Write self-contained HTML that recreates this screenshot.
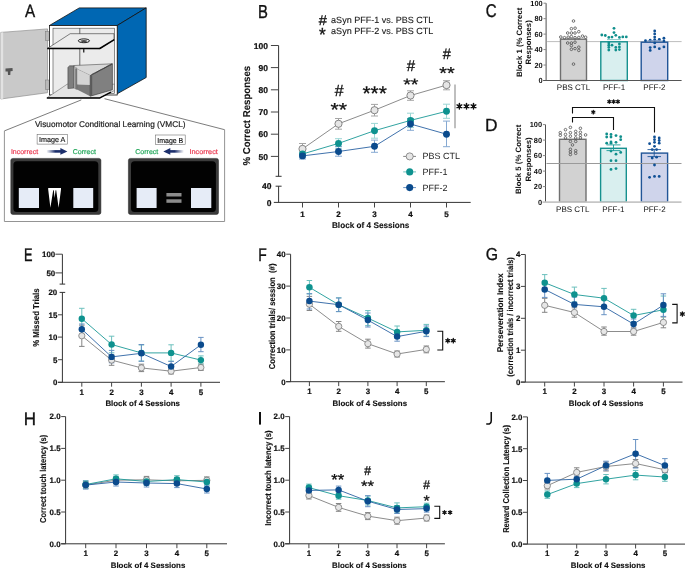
<!DOCTYPE html>
<html><head><meta charset="utf-8"><style>
html,body{margin:0;padding:0;background:#fff;width:685px;height:568px;overflow:hidden}
svg{display:block;will-change:transform}
text{font-family:"Liberation Sans", sans-serif}
svg{text-rendering:geometricPrecision}
</style></head><body>
<svg width="685" height="568" viewBox="0 0 685 568">
<rect width="685" height="568" fill="#fff"/>
<text transform="matrix(0.15232 0 0 0.17878 25.070 16.800)" font-size="100" font-weight="normal" fill="#111" stroke="#111" stroke-width="1.97">A</text>
<polygon points="0.8,32.4 47.5,28.9 47.5,92.7 0.8,99" fill="#c9c9c9" stroke="#8f8f8f" stroke-width="0.7" />
<polygon points="0.8,32.4 3.2,32.2 3.2,98.7 0.8,99" fill="#e2e2e2" stroke="none" stroke-width="0" />
<rect x="45.4" y="31.6" width="4.6" height="8.8" rx="0" fill="#b8b8b8" stroke="#777" stroke-width="0.5" />
<rect x="45.4" y="80" width="4.6" height="9.5" rx="0" fill="#b8b8b8" stroke="#777" stroke-width="0.5" />
<polygon points="5.5,68.6 12.5,68.1 12.7,71 10.5,71.2 10.3,74.9 8,74.9 7.8,71.4 5.5,71.6" fill="#555" stroke="none" stroke-width="0" />
<polygon points="49.4,25.5 79.3,7.9 146.2,7.9 117.2,25.5" fill="#0067b3" stroke="#111" stroke-width="0.8" />
<polygon points="117.2,25.5 146.2,7.9 146.2,77.5 117.2,93.8" fill="#0067b3" stroke="#111" stroke-width="0.8" />
<rect x="49.4" y="25.5" width="67.8" height="69.5" rx="0" fill="#ffffff" stroke="#111" stroke-width="0.8" />
<rect x="53" y="28.2" width="61.5" height="65.3" rx="0" fill="#ebebeb" stroke="#444" stroke-width="0.6" />
<line x1="79.8" y1="28.2" x2="79.8" y2="88" stroke="#333" stroke-width="0.7" />
<polygon points="47.7,48.3 99.8,48.6 114,39.8 114,33.7 70.2,33.7" fill="#ececec" stroke="#333" stroke-width="0.6" />
<line x1="47.2" y1="48.4" x2="100" y2="48.4" stroke="#000" stroke-width="1.5" />
<line x1="99.8" y1="48.5" x2="114.3" y2="39.6" stroke="#000" stroke-width="1.5" />
<ellipse cx="83.9" cy="40.8" rx="5.6" ry="1.9" fill="#fafafa" stroke="#111" stroke-width="0.95"/>
<ellipse cx="83.9" cy="41.1" rx="3.4" ry="0.75" fill="#111"/>
<rect x="83.1" y="49" width="1.3" height="3.5" rx="0" fill="#222" stroke="none" stroke-width="0" />
<polygon points="47.3,97.5 67.2,84.2 114.5,84.2 114.5,90.5 99.9,97.8" fill="#e4e4e4" stroke="#555" stroke-width="0.5" />
<line x1="46.8" y1="98" x2="100.2" y2="98" stroke="#000" stroke-width="1.6" />
<line x1="99.9" y1="97.9" x2="111" y2="92.2" stroke="#000" stroke-width="1.4" />
<polygon points="73.8,65.5 112.2,63.8 90.2,75.6 73.8,67.6" fill="#d8d8d8" stroke="#333" stroke-width="0.5" />
<polygon points="75.5,68.3 90.2,75.6 90.2,88 75.5,84" fill="#d4d4d4" stroke="none" stroke-width="0" />
<polygon points="75.5,84.5 90.2,85 90.2,96.2 77,89.5" fill="#7a7a7a" stroke="none" stroke-width="0" />
<polygon points="73.8,66.5 77,68 77,89.8 73.8,88.1" fill="#c2c2c2" stroke="#555" stroke-width="0.3" />
<rect x="75.3" y="68.5" width="1.6" height="20.5" rx="0" fill="#6f6f6f" stroke="none" stroke-width="0" />
<polygon points="67.9,67.4 69.6,65.8 73.8,65.8 73.8,88.1 67.9,88.6" fill="#7e7e7e" stroke="#333" stroke-width="0.5" />
<polygon points="90.2,75.6 112.4,63.8 112.4,89.8 90.2,96.2" fill="#808080" stroke="#333" stroke-width="0.6" />
<polygon points="90.2,75.6 92.2,74.5 92.2,95.6 90.2,96.2" fill="#5a5a5a" stroke="none" stroke-width="0" />
<line x1="92.5" y1="74.3" x2="112.2" y2="63.9" stroke="#3a3a3a" stroke-width="1.2" stroke-dasharray="0.7 0.6"/>
<line x1="81.3" y1="99.9" x2="4.4" y2="130.9" stroke="#444" stroke-width="0.7" />
<line x1="104.5" y1="98.7" x2="224.6" y2="129.7" stroke="#444" stroke-width="0.7" />
<polyline points="4.4,130.9 4.4,221.5 224.6,221.5 224.6,129.7" fill="none" stroke="#888" stroke-width="0.9" />
<text x="35" y="127.4" font-size="8.3" font-weight="normal" text-anchor="start" fill="#222" stroke="#222" stroke-width="0.2" textLength="150.5" lengthAdjust="spacingAndGlyphs">Visuomotor Conditional Learning (VMCL)</text>
<rect x="37.1" y="134.6" width="30.3" height="9.5" rx="0" fill="#fff" stroke="#666" stroke-width="0.55" />
<text x="52.25" y="142.4" font-size="7.3" font-weight="normal" text-anchor="middle" fill="#111" stroke="#111" stroke-width="0.15" textLength="26.3" lengthAdjust="spacingAndGlyphs">Image A</text>
<rect x="155.3" y="135" width="29.9" height="9.4" rx="0" fill="#fff" stroke="#666" stroke-width="0.55" />
<text x="170.25" y="142.6" font-size="7.3" font-weight="normal" text-anchor="middle" fill="#111" stroke="#111" stroke-width="0.15" textLength="26" lengthAdjust="spacingAndGlyphs">Image B</text>
<text x="10.9" y="153.9" font-size="7" font-weight="normal" text-anchor="start" fill="#ea3b52" stroke="#ea3b52" stroke-width="0.2" textLength="27.2" lengthAdjust="spacingAndGlyphs">Incorrect</text>
<text x="72.7" y="153.9" font-size="7" font-weight="normal" text-anchor="start" fill="#25a85c" stroke="#25a85c" stroke-width="0.2" textLength="23.2" lengthAdjust="spacingAndGlyphs">Correct</text>
<text x="135.2" y="153.9" font-size="7" font-weight="normal" text-anchor="start" fill="#25a85c" stroke="#25a85c" stroke-width="0.2" textLength="23.1" lengthAdjust="spacingAndGlyphs">Correct</text>
<text x="189.4" y="153.9" font-size="7" font-weight="normal" text-anchor="start" fill="#ea3b52" stroke="#ea3b52" stroke-width="0.2" textLength="28.5" lengthAdjust="spacingAndGlyphs">Incorrect</text>
<defs><linearGradient id="gr" x1="0" x2="1"><stop offset="0" stop-color="#1c2f6c" stop-opacity="0"/><stop offset="0.6" stop-color="#1c2f6c"/></linearGradient><linearGradient id="gl" x1="1" x2="0"><stop offset="0" stop-color="#1c2f6c" stop-opacity="0"/><stop offset="0.6" stop-color="#1c2f6c"/></linearGradient></defs>
<rect x="46.4" y="150.1" width="15" height="2.6" rx="0" fill="url(#gr)" stroke="none" stroke-width="0" />
<polygon points="60.4,148 67.4,151.4 60.4,154.8" fill="#1c2f6c" stroke="none" stroke-width="0" />
<rect x="168.3" y="150.1" width="15.6" height="2.6" rx="0" fill="url(#gl)" stroke="none" stroke-width="0" />
<polygon points="170.3,148 163.3,151.4 170.3,154.8" fill="#1c2f6c" stroke="none" stroke-width="0" />
<rect x="10.8" y="158.4" width="90.1" height="56" rx="2" fill="#3b3b3b" stroke="#222" stroke-width="0.5" />
<rect x="13.4" y="161.3" width="84.9" height="50.8" rx="3.5" fill="#020202" stroke="none" stroke-width="0" />
<rect x="128.4" y="158.4" width="90.1" height="56" rx="2" fill="#3b3b3b" stroke="#222" stroke-width="0.5" />
<rect x="131" y="161.3" width="84.9" height="50.8" rx="3.5" fill="#020202" stroke="none" stroke-width="0" />
<rect x="18.8" y="188" width="20.2" height="20" rx="0" fill="#e6ecf7" stroke="none" stroke-width="0" />
<rect x="73.3" y="188" width="19.9" height="20" rx="0" fill="#e6ecf7" stroke="none" stroke-width="0" />
<polygon points="48.2,187.9 61,187.9 61,189.5 58.6,207.7 56.2,190.2 55.6,190.2 54.6,198 53.8,190.2 53.2,190.2 50.4,207.7 48.2,189.5" fill="#fff" stroke="none" stroke-width="0" />
<rect x="136.6" y="188" width="20" height="20" rx="0" fill="#e6ecf7" stroke="none" stroke-width="0" />
<rect x="191" y="188" width="20.3" height="20" rx="0" fill="#e6ecf7" stroke="none" stroke-width="0" />
<rect x="166.4" y="193" width="15.1" height="3.5" rx="0" fill="#8c8c8c" stroke="none" stroke-width="0" />
<rect x="166.4" y="199.3" width="15.1" height="3.5" rx="0" fill="#8c8c8c" stroke="none" stroke-width="0" />
<text transform="matrix(0.14843 0 0 0.18750 258.082 17.600)" font-size="100" font-weight="normal" fill="#111" stroke="#111" stroke-width="2.02">B</text>
<text transform="matrix(0.14629 0 0 0.13887 318.736 24.800)" font-size="100" font-weight="normal" fill="#111" stroke="#111" stroke-width="2.05">#</text>
<text transform="matrix(0.17346 0 0 0.19084 318.920 41.130)" font-size="100" font-weight="normal" fill="#111" stroke="#111" stroke-width="1.73">*</text>
<text x="331.1" y="22.9" font-size="9" font-weight="normal" text-anchor="start" fill="#1a1a1a" stroke="#1a1a1a" stroke-width="0.12" textLength="102.3" lengthAdjust="spacingAndGlyphs">aSyn PFF-1 vs. PBS CTL</text>
<text x="331.1" y="34.3" font-size="9" font-weight="normal" text-anchor="start" fill="#1a1a1a" stroke="#1a1a1a" stroke-width="0.12" textLength="102.3" lengthAdjust="spacingAndGlyphs">aSyn PFF-2 vs. PBS CTL</text>
<line x1="278.6" y1="45.5" x2="278.6" y2="176.3" stroke="#333" stroke-width="1" />
<line x1="275.6" y1="176.3" x2="281.6" y2="176.3" stroke="#333" stroke-width="1" />
<line x1="278.6" y1="186.2" x2="278.6" y2="202.4" stroke="#333" stroke-width="1" />
<line x1="275.6" y1="186.2" x2="281.6" y2="186.2" stroke="#333" stroke-width="1" />
<line x1="270.9" y1="45.5" x2="278.6" y2="45.5" stroke="#444" stroke-width="1" />
<text x="268" y="48.6" font-size="8.5" font-weight="bold" text-anchor="end" fill="#111" stroke="#111" stroke-width="0.22">100</text>
<line x1="270.9" y1="67.6" x2="278.6" y2="67.6" stroke="#444" stroke-width="1" />
<text x="268" y="70.7" font-size="8.5" font-weight="bold" text-anchor="end" fill="#111" stroke="#111" stroke-width="0.22">90</text>
<line x1="270.9" y1="89.8" x2="278.6" y2="89.8" stroke="#444" stroke-width="1" />
<text x="268" y="92.9" font-size="8.5" font-weight="bold" text-anchor="end" fill="#111" stroke="#111" stroke-width="0.22">80</text>
<line x1="270.9" y1="112" x2="278.6" y2="112" stroke="#444" stroke-width="1" />
<text x="268" y="115.1" font-size="8.5" font-weight="bold" text-anchor="end" fill="#111" stroke="#111" stroke-width="0.22">70</text>
<line x1="270.9" y1="134.2" x2="278.6" y2="134.2" stroke="#444" stroke-width="1" />
<text x="268" y="137.3" font-size="8.5" font-weight="bold" text-anchor="end" fill="#111" stroke="#111" stroke-width="0.22">60</text>
<line x1="270.9" y1="156.4" x2="278.6" y2="156.4" stroke="#444" stroke-width="1" />
<text x="268" y="159.5" font-size="8.5" font-weight="bold" text-anchor="end" fill="#111" stroke="#111" stroke-width="0.22">50</text>
<text x="271.5" y="189.3" font-size="8.5" font-weight="bold" text-anchor="end" fill="#111" stroke="#111" stroke-width="0.22">40</text>
<text x="271.5" y="205.5" font-size="8.5" font-weight="bold" text-anchor="end" fill="#111" stroke="#111" stroke-width="0.22">0</text>
<line x1="273.8" y1="202.4" x2="470.7" y2="202.4" stroke="#333" stroke-width="1" />
<line x1="302.5" y1="202.4" x2="302.5" y2="207.5" stroke="#444" stroke-width="1" />
<text x="302.5" y="217.3" font-size="8" font-weight="bold" text-anchor="middle" fill="#111" stroke="#111" stroke-width="0.22">1</text>
<line x1="338.5" y1="202.4" x2="338.5" y2="207.5" stroke="#444" stroke-width="1" />
<text x="338.5" y="217.3" font-size="8" font-weight="bold" text-anchor="middle" fill="#111" stroke="#111" stroke-width="0.22">2</text>
<line x1="374.5" y1="202.4" x2="374.5" y2="207.5" stroke="#444" stroke-width="1" />
<text x="374.5" y="217.3" font-size="8" font-weight="bold" text-anchor="middle" fill="#111" stroke="#111" stroke-width="0.22">3</text>
<line x1="410.5" y1="202.4" x2="410.5" y2="207.5" stroke="#444" stroke-width="1" />
<text x="410.5" y="217.3" font-size="8" font-weight="bold" text-anchor="middle" fill="#111" stroke="#111" stroke-width="0.22">4</text>
<line x1="446.5" y1="202.4" x2="446.5" y2="207.5" stroke="#444" stroke-width="1" />
<text x="446.5" y="217.3" font-size="8" font-weight="bold" text-anchor="middle" fill="#111" stroke="#111" stroke-width="0.22">5</text>
<text x="370.7" y="227.55" font-size="8.2" font-weight="bold" text-anchor="middle" fill="#111" stroke="#111" stroke-width="0.12" textLength="77.5" lengthAdjust="spacingAndGlyphs">Block of 4 Sessions</text>
<text x="250.5" y="115.7" font-size="10" font-weight="bold" text-anchor="middle" fill="#111" transform="rotate(-90 250.5 115.7)" stroke="#111" stroke-width="0.12" textLength="99.8" lengthAdjust="spacingAndGlyphs">% Correct Responses</text>
<text transform="matrix(0.15909 0 0 0.16080 334.630 96.100)" font-size="100" font-weight="normal" fill="#111" stroke="#111" stroke-width="1.89">#</text>
<text transform="matrix(0.21297 0 0 0.18799 330.557 115.934)" font-size="100" font-weight="normal" fill="#111" stroke="#111" stroke-width="1.41">*</text>
<text transform="matrix(0.21297 0 0 0.18799 338.845 115.934)" font-size="100" font-weight="normal" fill="#111" stroke="#111" stroke-width="1.41">*</text>
<text transform="matrix(0.20867 0 0 0.19654 362.464 100.422)" font-size="100" font-weight="normal" fill="#111" stroke="#111" stroke-width="1.44">*</text>
<text transform="matrix(0.20867 0 0 0.19654 370.585 100.422)" font-size="100" font-weight="normal" fill="#111" stroke="#111" stroke-width="1.44">*</text>
<text transform="matrix(0.20867 0 0 0.19654 378.705 100.422)" font-size="100" font-weight="normal" fill="#111" stroke="#111" stroke-width="1.44">*</text>
<text transform="matrix(0.14994 0 0 0.15349 406.734 70.900)" font-size="100" font-weight="normal" fill="#111" stroke="#111" stroke-width="2">#</text>
<text transform="matrix(0.19690 0 0 0.16521 403.183 90.266)" font-size="100" font-weight="normal" fill="#111" stroke="#111" stroke-width="1.52">*</text>
<text transform="matrix(0.19690 0 0 0.16521 410.845 90.266)" font-size="100" font-weight="normal" fill="#111" stroke="#111" stroke-width="1.52">*</text>
<text transform="matrix(0.14446 0 0 0.15057 442.837 58.800)" font-size="100" font-weight="normal" fill="#111" stroke="#111" stroke-width="2.08">#</text>
<text transform="matrix(0.19824 0 0 0.17375 439.181 78.954)" font-size="100" font-weight="normal" fill="#111" stroke="#111" stroke-width="1.51">*</text>
<text transform="matrix(0.19824 0 0 0.17375 446.895 78.954)" font-size="100" font-weight="normal" fill="#111" stroke="#111" stroke-width="1.51">*</text>
<line x1="455" y1="84.5" x2="455" y2="128.3" stroke="#8a8a8a" stroke-width="1.1" />
<path d="M459.4 103.6V109M457.06 104.95L461.74 107.65M457.06 107.65L461.74 104.95" stroke="#111" stroke-width="1.5" stroke-linecap="round" fill="none"/>
<circle cx="459.4" cy="106.3" r="1.49" fill="#111"/>
<path d="M466.5 103.6V109M464.16 104.95L468.84 107.65M464.16 107.65L468.84 104.95" stroke="#111" stroke-width="1.5" stroke-linecap="round" fill="none"/>
<circle cx="466.5" cy="106.3" r="1.49" fill="#111"/>
<path d="M473.5 103.6V109M471.16 104.95L475.84 107.65M471.16 107.65L475.84 104.95" stroke="#111" stroke-width="1.5" stroke-linecap="round" fill="none"/>
<circle cx="473.5" cy="106.3" r="1.49" fill="#111"/>
<line x1="403.2" y1="156.4" x2="416" y2="156.4" stroke="#858585" stroke-width="1" />
<circle cx="409.7" cy="156.4" r="3.55" fill="#e6e6e6" stroke="#7a7a7a" stroke-width="0.8"/>
<line x1="403.2" y1="171.9" x2="416" y2="171.9" stroke="#6cc0bd" stroke-width="1" />
<circle cx="409.7" cy="171.9" r="3.55" fill="#0e928f" stroke="none" stroke-width="0"/>
<line x1="403.2" y1="187.6" x2="416" y2="187.6" stroke="#6892c3" stroke-width="1" />
<circle cx="409.7" cy="187.6" r="3.55" fill="#0b4b8d" stroke="none" stroke-width="0"/>
<text x="422.6" y="159.1" font-size="9" font-weight="normal" text-anchor="start" fill="#222" >PBS CTL</text>
<text x="422.6" y="174.9" font-size="9" font-weight="normal" text-anchor="start" fill="#222" >PFF-1</text>
<text x="422.6" y="190.7" font-size="9" font-weight="normal" text-anchor="start" fill="#222" >PFF-2</text>
<polyline points="302.5,148.9 338.5,123.8 374.5,110.2 410.5,95.5 446.5,85.1" fill="none" stroke="#6e6e6e" stroke-width="0.8" />
<polyline points="302.5,154 338.5,143.4 374.5,130.7 410.5,120.4 446.5,111.3" fill="none" stroke="#1a9996" stroke-width="0.9" />
<polyline points="302.5,155.9 338.5,151.5 374.5,146.3 410.5,124 446.5,134.2" fill="none" stroke="#2a62a3" stroke-width="0.9" />
<line x1="302.5" y1="143.5" x2="302.5" y2="154" stroke="#a5a5a5" stroke-width="1" />
<line x1="299" y1="143.5" x2="306" y2="143.5" stroke="#a5a5a5" stroke-width="1" />
<line x1="299" y1="154" x2="306" y2="154" stroke="#a5a5a5" stroke-width="1" />
<line x1="338.5" y1="118.5" x2="338.5" y2="129.2" stroke="#a5a5a5" stroke-width="1" />
<line x1="335" y1="118.5" x2="342" y2="118.5" stroke="#a5a5a5" stroke-width="1" />
<line x1="335" y1="129.2" x2="342" y2="129.2" stroke="#a5a5a5" stroke-width="1" />
<line x1="374.5" y1="104.4" x2="374.5" y2="116" stroke="#a5a5a5" stroke-width="1" />
<line x1="371" y1="104.4" x2="378" y2="104.4" stroke="#a5a5a5" stroke-width="1" />
<line x1="371" y1="116" x2="378" y2="116" stroke="#a5a5a5" stroke-width="1" />
<line x1="410.5" y1="90.8" x2="410.5" y2="100.3" stroke="#a5a5a5" stroke-width="1" />
<line x1="407" y1="90.8" x2="414" y2="90.8" stroke="#a5a5a5" stroke-width="1" />
<line x1="407" y1="100.3" x2="414" y2="100.3" stroke="#a5a5a5" stroke-width="1" />
<line x1="446.5" y1="80.7" x2="446.5" y2="89.8" stroke="#a5a5a5" stroke-width="1" />
<line x1="443" y1="80.7" x2="450" y2="80.7" stroke="#a5a5a5" stroke-width="1" />
<line x1="443" y1="89.8" x2="450" y2="89.8" stroke="#a5a5a5" stroke-width="1" />
<line x1="302.5" y1="151" x2="302.5" y2="157" stroke="#9bd6d4" stroke-width="1" />
<line x1="299" y1="151" x2="306" y2="151" stroke="#9bd6d4" stroke-width="1" />
<line x1="299" y1="157" x2="306" y2="157" stroke="#9bd6d4" stroke-width="1" />
<line x1="338.5" y1="138.7" x2="338.5" y2="148.2" stroke="#9bd6d4" stroke-width="1" />
<line x1="335" y1="138.7" x2="342" y2="138.7" stroke="#9bd6d4" stroke-width="1" />
<line x1="335" y1="148.2" x2="342" y2="148.2" stroke="#9bd6d4" stroke-width="1" />
<line x1="374.5" y1="123.4" x2="374.5" y2="138.2" stroke="#9bd6d4" stroke-width="1" />
<line x1="371" y1="123.4" x2="378" y2="123.4" stroke="#9bd6d4" stroke-width="1" />
<line x1="371" y1="138.2" x2="378" y2="138.2" stroke="#9bd6d4" stroke-width="1" />
<line x1="410.5" y1="113.2" x2="410.5" y2="127.6" stroke="#9bd6d4" stroke-width="1" />
<line x1="407" y1="113.2" x2="414" y2="113.2" stroke="#9bd6d4" stroke-width="1" />
<line x1="407" y1="127.6" x2="414" y2="127.6" stroke="#9bd6d4" stroke-width="1" />
<line x1="446.5" y1="104.2" x2="446.5" y2="118.3" stroke="#9bd6d4" stroke-width="1" />
<line x1="443" y1="104.2" x2="450" y2="104.2" stroke="#9bd6d4" stroke-width="1" />
<line x1="443" y1="118.3" x2="450" y2="118.3" stroke="#9bd6d4" stroke-width="1" />
<line x1="302.5" y1="153" x2="302.5" y2="159" stroke="#86a9d2" stroke-width="1" />
<line x1="299" y1="153" x2="306" y2="153" stroke="#86a9d2" stroke-width="1" />
<line x1="299" y1="159" x2="306" y2="159" stroke="#86a9d2" stroke-width="1" />
<line x1="338.5" y1="146.5" x2="338.5" y2="156.2" stroke="#86a9d2" stroke-width="1" />
<line x1="335" y1="146.5" x2="342" y2="146.5" stroke="#86a9d2" stroke-width="1" />
<line x1="335" y1="156.2" x2="342" y2="156.2" stroke="#86a9d2" stroke-width="1" />
<line x1="374.5" y1="140.1" x2="374.5" y2="152.3" stroke="#86a9d2" stroke-width="1" />
<line x1="371" y1="140.1" x2="378" y2="140.1" stroke="#86a9d2" stroke-width="1" />
<line x1="371" y1="152.3" x2="378" y2="152.3" stroke="#86a9d2" stroke-width="1" />
<line x1="410.5" y1="118.5" x2="410.5" y2="130.3" stroke="#86a9d2" stroke-width="1" />
<line x1="407" y1="118.5" x2="414" y2="118.5" stroke="#86a9d2" stroke-width="1" />
<line x1="407" y1="130.3" x2="414" y2="130.3" stroke="#86a9d2" stroke-width="1" />
<line x1="446.5" y1="121.1" x2="446.5" y2="146.7" stroke="#86a9d2" stroke-width="1" />
<line x1="443" y1="121.1" x2="450" y2="121.1" stroke="#86a9d2" stroke-width="1" />
<line x1="443" y1="146.7" x2="450" y2="146.7" stroke="#86a9d2" stroke-width="1" />
<circle cx="302.5" cy="148.9" r="3.6" fill="#e6e6e6" stroke="#7a7a7a" stroke-width="0.9"/>
<circle cx="338.5" cy="123.8" r="3.6" fill="#e6e6e6" stroke="#7a7a7a" stroke-width="0.9"/>
<circle cx="374.5" cy="110.2" r="3.6" fill="#e6e6e6" stroke="#7a7a7a" stroke-width="0.9"/>
<circle cx="410.5" cy="95.5" r="3.6" fill="#e6e6e6" stroke="#7a7a7a" stroke-width="0.9"/>
<circle cx="446.5" cy="85.1" r="3.6" fill="#e6e6e6" stroke="#7a7a7a" stroke-width="0.9"/>
<circle cx="302.5" cy="154" r="3.45" fill="#0e928f" stroke="none" stroke-width="0"/>
<circle cx="338.5" cy="143.4" r="3.45" fill="#0e928f" stroke="none" stroke-width="0"/>
<circle cx="374.5" cy="130.7" r="3.45" fill="#0e928f" stroke="none" stroke-width="0"/>
<circle cx="410.5" cy="120.4" r="3.45" fill="#0e928f" stroke="none" stroke-width="0"/>
<circle cx="446.5" cy="111.3" r="3.45" fill="#0e928f" stroke="none" stroke-width="0"/>
<circle cx="302.5" cy="155.9" r="3.45" fill="#0b4b8d" stroke="none" stroke-width="0"/>
<circle cx="338.5" cy="151.5" r="3.45" fill="#0b4b8d" stroke="none" stroke-width="0"/>
<circle cx="374.5" cy="146.3" r="3.45" fill="#0b4b8d" stroke="none" stroke-width="0"/>
<circle cx="410.5" cy="124" r="3.45" fill="#0b4b8d" stroke="none" stroke-width="0"/>
<circle cx="446.5" cy="134.2" r="3.45" fill="#0b4b8d" stroke="none" stroke-width="0"/>
<text transform="matrix(0.15001 0 0 0.18503 485.638 17.419)" font-size="100" font-weight="normal" fill="#111" stroke="#111" stroke-width="2">C</text>
<line x1="547.1" y1="41.6" x2="681.6" y2="41.6" stroke="#bdbdbd" stroke-width="1" />
<rect x="560.5" y="39.2" width="26" height="41.3" rx="0" fill="#d2d2d2" stroke="#707070" stroke-width="1.4" />
<rect x="600.8" y="41.8" width="26.5" height="38.7" rx="0" fill="#d9efef" stroke="#17918f" stroke-width="1.4" />
<rect x="641.2" y="42.2" width="26.5" height="38.3" rx="0" fill="#cfd4eb" stroke="#215597" stroke-width="1.4" />
<circle cx="573.5" cy="21" r="1.3" fill="none" stroke="#505050" stroke-width="0.8"/>
<circle cx="571.4" cy="28.7" r="1.3" fill="none" stroke="#505050" stroke-width="0.8"/>
<circle cx="575.1" cy="28.2" r="1.3" fill="none" stroke="#505050" stroke-width="0.8"/>
<circle cx="567.7" cy="33" r="1.3" fill="none" stroke="#505050" stroke-width="0.8"/>
<circle cx="571.4" cy="33" r="1.3" fill="none" stroke="#505050" stroke-width="0.8"/>
<circle cx="575" cy="33" r="1.3" fill="none" stroke="#505050" stroke-width="0.8"/>
<circle cx="578.8" cy="31.7" r="1.3" fill="none" stroke="#505050" stroke-width="0.8"/>
<circle cx="560.8" cy="37" r="1.3" fill="none" stroke="#505050" stroke-width="0.8"/>
<circle cx="564.5" cy="37.7" r="1.3" fill="none" stroke="#505050" stroke-width="0.8"/>
<circle cx="568.2" cy="37.2" r="1.3" fill="none" stroke="#505050" stroke-width="0.8"/>
<circle cx="571.4" cy="36.6" r="1.3" fill="none" stroke="#505050" stroke-width="0.8"/>
<circle cx="575" cy="37.7" r="1.3" fill="none" stroke="#505050" stroke-width="0.8"/>
<circle cx="578.8" cy="37.5" r="1.3" fill="none" stroke="#505050" stroke-width="0.8"/>
<circle cx="582.5" cy="36.1" r="1.3" fill="none" stroke="#505050" stroke-width="0.8"/>
<circle cx="585.6" cy="37.2" r="1.3" fill="none" stroke="#505050" stroke-width="0.8"/>
<circle cx="567.7" cy="43" r="1.3" fill="none" stroke="#505050" stroke-width="0.8"/>
<circle cx="571.4" cy="43" r="1.3" fill="none" stroke="#505050" stroke-width="0.8"/>
<circle cx="575" cy="42.2" r="1.3" fill="none" stroke="#505050" stroke-width="0.8"/>
<circle cx="571.4" cy="45.6" r="1.3" fill="none" stroke="#505050" stroke-width="0.8"/>
<circle cx="571.4" cy="49.3" r="1.3" fill="none" stroke="#505050" stroke-width="0.8"/>
<circle cx="575" cy="48.6" r="1.3" fill="none" stroke="#505050" stroke-width="0.8"/>
<circle cx="578.8" cy="47.2" r="1.3" fill="none" stroke="#505050" stroke-width="0.8"/>
<circle cx="578.8" cy="50.4" r="1.3" fill="none" stroke="#505050" stroke-width="0.8"/>
<circle cx="573.5" cy="64.1" r="1.3" fill="none" stroke="#505050" stroke-width="0.8"/>
<circle cx="614" cy="28.3" r="1.4" fill="#0f8f8c" stroke="none" stroke-width="0"/>
<circle cx="614" cy="32.6" r="1.4" fill="#0f8f8c" stroke="none" stroke-width="0"/>
<circle cx="615.8" cy="35.3" r="1.4" fill="#0f8f8c" stroke="none" stroke-width="0"/>
<circle cx="601.8" cy="35" r="1.4" fill="#0f8f8c" stroke="none" stroke-width="0"/>
<circle cx="605.3" cy="35.5" r="1.4" fill="#0f8f8c" stroke="none" stroke-width="0"/>
<circle cx="608.8" cy="37.4" r="1.4" fill="#0f8f8c" stroke="none" stroke-width="0"/>
<circle cx="612" cy="37.1" r="1.4" fill="#0f8f8c" stroke="none" stroke-width="0"/>
<circle cx="619.4" cy="37.4" r="1.4" fill="#0f8f8c" stroke="none" stroke-width="0"/>
<circle cx="622.8" cy="36.9" r="1.4" fill="#0f8f8c" stroke="none" stroke-width="0"/>
<circle cx="626.3" cy="36.9" r="1.4" fill="#0f8f8c" stroke="none" stroke-width="0"/>
<circle cx="608.8" cy="42.9" r="1.4" fill="#0f8f8c" stroke="none" stroke-width="0"/>
<circle cx="608.8" cy="45.2" r="1.4" fill="#0f8f8c" stroke="none" stroke-width="0"/>
<circle cx="608.8" cy="47.4" r="1.4" fill="#0f8f8c" stroke="none" stroke-width="0"/>
<circle cx="608.8" cy="50.1" r="1.4" fill="#0f8f8c" stroke="none" stroke-width="0"/>
<circle cx="612" cy="45.2" r="1.4" fill="#0f8f8c" stroke="none" stroke-width="0"/>
<circle cx="615.8" cy="47.4" r="1.4" fill="#0f8f8c" stroke="none" stroke-width="0"/>
<circle cx="615.8" cy="50.1" r="1.4" fill="#0f8f8c" stroke="none" stroke-width="0"/>
<circle cx="619.4" cy="43.9" r="1.4" fill="#0f8f8c" stroke="none" stroke-width="0"/>
<circle cx="619.4" cy="46.9" r="1.4" fill="#0f8f8c" stroke="none" stroke-width="0"/>
<circle cx="619.4" cy="49.6" r="1.4" fill="#0f8f8c" stroke="none" stroke-width="0"/>
<circle cx="654.7" cy="31" r="1.4" fill="#0e4f95" stroke="none" stroke-width="0"/>
<circle cx="654.7" cy="33.9" r="1.4" fill="#0e4f95" stroke="none" stroke-width="0"/>
<circle cx="654.7" cy="37.1" r="1.4" fill="#0e4f95" stroke="none" stroke-width="0"/>
<circle cx="654.7" cy="39.6" r="1.4" fill="#0e4f95" stroke="none" stroke-width="0"/>
<circle cx="645.5" cy="40.7" r="1.4" fill="#0e4f95" stroke="none" stroke-width="0"/>
<circle cx="650.2" cy="40.1" r="1.4" fill="#0e4f95" stroke="none" stroke-width="0"/>
<circle cx="659.3" cy="39.3" r="1.4" fill="#0e4f95" stroke="none" stroke-width="0"/>
<circle cx="663.9" cy="38.2" r="1.4" fill="#0e4f95" stroke="none" stroke-width="0"/>
<circle cx="663.9" cy="40.9" r="1.4" fill="#0e4f95" stroke="none" stroke-width="0"/>
<circle cx="654.7" cy="46.9" r="1.4" fill="#0e4f95" stroke="none" stroke-width="0"/>
<circle cx="659.3" cy="48.7" r="1.4" fill="#0e4f95" stroke="none" stroke-width="0"/>
<circle cx="663.9" cy="46.9" r="1.4" fill="#0e4f95" stroke="none" stroke-width="0"/>
<circle cx="650.2" cy="47.6" r="1.4" fill="#0e4f95" stroke="none" stroke-width="0"/>
<circle cx="650.2" cy="50.4" r="1.4" fill="#0e4f95" stroke="none" stroke-width="0"/>
<circle cx="654.7" cy="42.9" r="1.4" fill="#0e4f95" stroke="none" stroke-width="0"/>
<line x1="566.5" y1="38.3" x2="580.5" y2="38.3" stroke="#777" stroke-width="0.8" />
<line x1="607" y1="39.6" x2="621" y2="39.6" stroke="#6cbcba" stroke-width="0.8" />
<line x1="647.5" y1="40.5" x2="661.5" y2="40.5" stroke="#6d8fc0" stroke-width="0.8" />
<line x1="546.1" y1="3.2" x2="546.1" y2="80.5" stroke="#505050" stroke-width="1" />
<line x1="543.1" y1="80.5" x2="681.6" y2="80.5" stroke="#555" stroke-width="1" />
<line x1="543.5" y1="3.2" x2="546.1" y2="3.2" stroke="#888" stroke-width="1" />
<text x="542.7" y="5.8" font-size="7.4" font-weight="bold" text-anchor="end" fill="#111" >100</text>
<line x1="543.5" y1="18.66" x2="546.1" y2="18.66" stroke="#888" stroke-width="1" />
<text x="542.7" y="21.26" font-size="7.4" font-weight="bold" text-anchor="end" fill="#111" >80</text>
<line x1="543.5" y1="34.12" x2="546.1" y2="34.12" stroke="#888" stroke-width="1" />
<text x="542.7" y="36.72" font-size="7.4" font-weight="bold" text-anchor="end" fill="#111" >60</text>
<line x1="543.5" y1="49.58" x2="546.1" y2="49.58" stroke="#888" stroke-width="1" />
<text x="542.7" y="52.18" font-size="7.4" font-weight="bold" text-anchor="end" fill="#111" >40</text>
<line x1="543.5" y1="65.04" x2="546.1" y2="65.04" stroke="#888" stroke-width="1" />
<text x="542.7" y="67.64" font-size="7.4" font-weight="bold" text-anchor="end" fill="#111" >20</text>
<text x="542.7" y="83.1" font-size="7.4" font-weight="bold" text-anchor="end" fill="#111" >0</text>
<text x="573.5" y="89.7" font-size="8" font-weight="normal" text-anchor="middle" fill="#111" >PBS CTL</text>
<text x="614.05" y="89.7" font-size="8" font-weight="normal" text-anchor="middle" fill="#111" >PFF-1</text>
<text x="654.45" y="89.7" font-size="8" font-weight="normal" text-anchor="middle" fill="#111" >PFF-2</text>
<text x="521.8" y="42.3" font-size="7.8" font-weight="bold" text-anchor="middle" fill="#111" transform="rotate(-90 521.8 42.3)" >Block 1 (% Correct</text>
<text x="530.8" y="42.3" font-size="7.8" font-weight="bold" text-anchor="middle" fill="#111" transform="rotate(-90 530.8 42.3)" >Responses)</text>
<text transform="matrix(0.17390 0 0 0.17588 484.973 131.300)" font-size="100" font-weight="normal" fill="#111" stroke="#111" stroke-width="1.73">D</text>
<rect x="559.5" y="139.3" width="26.5" height="62.8" rx="0" fill="#d2d2d2" stroke="#707070" stroke-width="1.4" />
<rect x="600.6" y="148.3" width="25.7" height="53.8" rx="0" fill="#d9efef" stroke="#17918f" stroke-width="1.4" />
<rect x="641.4" y="153.1" width="26.2" height="49" rx="0" fill="#cfd4eb" stroke="#215597" stroke-width="1.4" />
<line x1="546.5" y1="163.5" x2="681.5" y2="163.5" stroke="#9a9a9a" stroke-width="1" />
<circle cx="570.4" cy="127.4" r="1.3" fill="none" stroke="#505050" stroke-width="0.8"/>
<circle cx="565.5" cy="129.7" r="1.3" fill="none" stroke="#505050" stroke-width="0.8"/>
<circle cx="575.7" cy="131.4" r="1.3" fill="none" stroke="#505050" stroke-width="0.8"/>
<circle cx="580.4" cy="128.3" r="1.3" fill="none" stroke="#505050" stroke-width="0.8"/>
<circle cx="560.3" cy="132.7" r="1.3" fill="none" stroke="#505050" stroke-width="0.8"/>
<circle cx="560.3" cy="135.3" r="1.3" fill="none" stroke="#505050" stroke-width="0.8"/>
<circle cx="565.5" cy="134.4" r="1.3" fill="none" stroke="#505050" stroke-width="0.8"/>
<circle cx="570.4" cy="132.7" r="1.3" fill="none" stroke="#505050" stroke-width="0.8"/>
<circle cx="575.7" cy="134.4" r="1.3" fill="none" stroke="#505050" stroke-width="0.8"/>
<circle cx="580.4" cy="132.3" r="1.3" fill="none" stroke="#505050" stroke-width="0.8"/>
<circle cx="580.4" cy="135.3" r="1.3" fill="none" stroke="#505050" stroke-width="0.8"/>
<circle cx="585.6" cy="134.9" r="1.3" fill="none" stroke="#505050" stroke-width="0.8"/>
<circle cx="565.5" cy="137.9" r="1.3" fill="none" stroke="#505050" stroke-width="0.8"/>
<circle cx="570.4" cy="136.2" r="1.3" fill="none" stroke="#505050" stroke-width="0.8"/>
<circle cx="575.7" cy="137.9" r="1.3" fill="none" stroke="#505050" stroke-width="0.8"/>
<circle cx="580.4" cy="137.9" r="1.3" fill="none" stroke="#505050" stroke-width="0.8"/>
<circle cx="570.4" cy="141.4" r="1.3" fill="none" stroke="#505050" stroke-width="0.8"/>
<circle cx="575.7" cy="141.4" r="1.3" fill="none" stroke="#505050" stroke-width="0.8"/>
<circle cx="572.5" cy="144.9" r="1.3" fill="none" stroke="#505050" stroke-width="0.8"/>
<circle cx="570.4" cy="149.3" r="1.3" fill="none" stroke="#505050" stroke-width="0.8"/>
<circle cx="570.4" cy="151.9" r="1.3" fill="none" stroke="#505050" stroke-width="0.8"/>
<circle cx="570.4" cy="154.5" r="1.3" fill="none" stroke="#505050" stroke-width="0.8"/>
<circle cx="575.7" cy="150.7" r="1.3" fill="none" stroke="#505050" stroke-width="0.8"/>
<circle cx="575.7" cy="153.3" r="1.3" fill="none" stroke="#505050" stroke-width="0.8"/>
<circle cx="606.7" cy="133.9" r="1.4" fill="#0f8f8c" stroke="none" stroke-width="0"/>
<circle cx="611" cy="134.4" r="1.4" fill="#0f8f8c" stroke="none" stroke-width="0"/>
<circle cx="616" cy="135.6" r="1.4" fill="#0f8f8c" stroke="none" stroke-width="0"/>
<circle cx="620.7" cy="136.7" r="1.4" fill="#0f8f8c" stroke="none" stroke-width="0"/>
<circle cx="606.7" cy="137" r="1.4" fill="#0f8f8c" stroke="none" stroke-width="0"/>
<circle cx="611" cy="137" r="1.4" fill="#0f8f8c" stroke="none" stroke-width="0"/>
<circle cx="606.7" cy="143.2" r="1.4" fill="#0f8f8c" stroke="none" stroke-width="0"/>
<circle cx="611" cy="141.9" r="1.4" fill="#0f8f8c" stroke="none" stroke-width="0"/>
<circle cx="616" cy="142.3" r="1.4" fill="#0f8f8c" stroke="none" stroke-width="0"/>
<circle cx="620.7" cy="139.7" r="1.4" fill="#0f8f8c" stroke="none" stroke-width="0"/>
<circle cx="611" cy="143.2" r="1.4" fill="#0f8f8c" stroke="none" stroke-width="0"/>
<circle cx="611" cy="151" r="1.4" fill="#0f8f8c" stroke="none" stroke-width="0"/>
<circle cx="616" cy="154.2" r="1.4" fill="#0f8f8c" stroke="none" stroke-width="0"/>
<circle cx="620.7" cy="152.4" r="1.4" fill="#0f8f8c" stroke="none" stroke-width="0"/>
<circle cx="611" cy="160.7" r="1.4" fill="#0f8f8c" stroke="none" stroke-width="0"/>
<circle cx="616" cy="160.7" r="1.4" fill="#0f8f8c" stroke="none" stroke-width="0"/>
<circle cx="611" cy="169.4" r="1.4" fill="#0f8f8c" stroke="none" stroke-width="0"/>
<circle cx="616" cy="168.6" r="1.4" fill="#0f8f8c" stroke="none" stroke-width="0"/>
<circle cx="654.5" cy="137" r="1.4" fill="#0e4f95" stroke="none" stroke-width="0"/>
<circle cx="659.2" cy="137.9" r="1.4" fill="#0e4f95" stroke="none" stroke-width="0"/>
<circle cx="654.5" cy="139.7" r="1.4" fill="#0e4f95" stroke="none" stroke-width="0"/>
<circle cx="659.2" cy="140.5" r="1.4" fill="#0e4f95" stroke="none" stroke-width="0"/>
<circle cx="654.5" cy="142.3" r="1.4" fill="#0e4f95" stroke="none" stroke-width="0"/>
<circle cx="659.2" cy="143.2" r="1.4" fill="#0e4f95" stroke="none" stroke-width="0"/>
<circle cx="649.6" cy="143.7" r="1.4" fill="#0e4f95" stroke="none" stroke-width="0"/>
<circle cx="654.5" cy="146.3" r="1.4" fill="#0e4f95" stroke="none" stroke-width="0"/>
<circle cx="652.2" cy="149.6" r="1.4" fill="#0e4f95" stroke="none" stroke-width="0"/>
<circle cx="656.6" cy="149.6" r="1.4" fill="#0e4f95" stroke="none" stroke-width="0"/>
<circle cx="652.2" cy="158" r="1.4" fill="#0e4f95" stroke="none" stroke-width="0"/>
<circle cx="656.6" cy="157.2" r="1.4" fill="#0e4f95" stroke="none" stroke-width="0"/>
<circle cx="654.5" cy="165" r="1.4" fill="#0e4f95" stroke="none" stroke-width="0"/>
<circle cx="649.6" cy="177.3" r="1.4" fill="#0e4f95" stroke="none" stroke-width="0"/>
<circle cx="654.5" cy="176.4" r="1.4" fill="#0e4f95" stroke="none" stroke-width="0"/>
<circle cx="659.2" cy="176.4" r="1.4" fill="#0e4f95" stroke="none" stroke-width="0"/>
<line x1="613.5" y1="144.9" x2="613.5" y2="150.6" stroke="#179a97" stroke-width="0.9" />
<line x1="606.5" y1="144.9" x2="620.5" y2="144.9" stroke="#179a97" stroke-width="0.9" />
<line x1="606.5" y1="150.6" x2="620.5" y2="150.6" stroke="#179a97" stroke-width="0.9" />
<line x1="654.2" y1="149.6" x2="654.2" y2="156.6" stroke="#1d5699" stroke-width="0.9" />
<line x1="647.5" y1="149.6" x2="661" y2="149.6" stroke="#1d5699" stroke-width="0.9" />
<line x1="647.5" y1="156.6" x2="661" y2="156.6" stroke="#1d5699" stroke-width="0.9" />
<polyline points="572.5,113.6 572.5,107.5 654.5,107.5 654.5,132.4" fill="none" stroke="#111" stroke-width="1.1" />
<polyline points="572.5,122.6 572.5,117.5 613.5,117.5 613.5,130" fill="none" stroke="#111" stroke-width="1.1" />
<path d="M609.3 99.85V103.35M607.78 100.72L610.82 102.47M607.78 102.47L610.82 100.72" stroke="#111" stroke-width="1.3" stroke-linecap="round" fill="none"/>
<circle cx="609.3" cy="101.6" r="0.96" fill="#111"/>
<path d="M613.6 99.85V103.35M612.08 100.72L615.12 102.47M612.08 102.47L615.12 100.72" stroke="#111" stroke-width="1.3" stroke-linecap="round" fill="none"/>
<circle cx="613.6" cy="101.6" r="0.96" fill="#111"/>
<path d="M617.9 99.85V103.35M616.38 100.72L619.42 102.47M616.38 102.47L619.42 100.72" stroke="#111" stroke-width="1.3" stroke-linecap="round" fill="none"/>
<circle cx="617.9" cy="101.6" r="0.96" fill="#111"/>
<path d="M593.3 110.4V113.9M591.78 111.28L594.82 113.03M591.78 113.03L594.82 111.28" stroke="#111" stroke-width="1.3" stroke-linecap="round" fill="none"/>
<circle cx="593.3" cy="112.15" r="0.96" fill="#111"/>
<line x1="545.5" y1="124.6" x2="545.5" y2="202.1" stroke="#505050" stroke-width="1" />
<line x1="542.5" y1="202.1" x2="681.5" y2="202.1" stroke="#c6c6c6" stroke-width="1.6" />
<line x1="542.9" y1="124.6" x2="545.5" y2="124.6" stroke="#888" stroke-width="1" />
<text x="542.1" y="127.2" font-size="7.4" font-weight="bold" text-anchor="end" fill="#111" >100</text>
<line x1="542.9" y1="140.1" x2="545.5" y2="140.1" stroke="#888" stroke-width="1" />
<text x="542.1" y="142.7" font-size="7.4" font-weight="bold" text-anchor="end" fill="#111" >80</text>
<line x1="542.9" y1="155.6" x2="545.5" y2="155.6" stroke="#888" stroke-width="1" />
<text x="542.1" y="158.2" font-size="7.4" font-weight="bold" text-anchor="end" fill="#111" >60</text>
<line x1="542.9" y1="171.1" x2="545.5" y2="171.1" stroke="#888" stroke-width="1" />
<text x="542.1" y="173.7" font-size="7.4" font-weight="bold" text-anchor="end" fill="#111" >40</text>
<line x1="542.9" y1="186.6" x2="545.5" y2="186.6" stroke="#888" stroke-width="1" />
<text x="542.1" y="189.2" font-size="7.4" font-weight="bold" text-anchor="end" fill="#111" >20</text>
<text x="542.1" y="204.7" font-size="7.4" font-weight="bold" text-anchor="end" fill="#111" >0</text>
<text x="572.75" y="211.7" font-size="8" font-weight="normal" text-anchor="middle" fill="#111" >PBS CTL</text>
<text x="613.45" y="211.7" font-size="8" font-weight="normal" text-anchor="middle" fill="#111" >PFF-1</text>
<text x="654.5" y="211.7" font-size="8" font-weight="normal" text-anchor="middle" fill="#111" >PFF-2</text>
<text x="521.3" y="159.4" font-size="7.8" font-weight="bold" text-anchor="middle" fill="#111" transform="rotate(-90 521.3 159.4)" >Block 5 (% Correct</text>
<text x="530.8" y="159.4" font-size="7.8" font-weight="bold" text-anchor="middle" fill="#111" transform="rotate(-90 530.8 159.4)" >Responses)</text>
<text transform="matrix(0.12731 0 0 0.18314 24.056 260.800)" font-size="100" font-weight="normal" fill="#111" stroke="#111" stroke-width="2.36">E</text>
<line x1="62.4" y1="254.2" x2="62.4" y2="284.1" stroke="#333" stroke-width="1" />
<line x1="59.6" y1="284.1" x2="65.2" y2="284.1" stroke="#333" stroke-width="1" />
<line x1="62.4" y1="292.4" x2="62.4" y2="382.3" stroke="#333" stroke-width="1" />
<line x1="59.6" y1="292.4" x2="65.2" y2="292.4" stroke="#333" stroke-width="1" />
<line x1="55.4" y1="254.2" x2="62.4" y2="254.2" stroke="#444" stroke-width="1" />
<text x="55.2" y="257" font-size="7.9" font-weight="bold" text-anchor="end" fill="#111" stroke="#111" stroke-width="0.2">100</text>
<line x1="55.4" y1="272.9" x2="62.4" y2="272.9" stroke="#444" stroke-width="1" />
<text x="55.2" y="275.7" font-size="7.9" font-weight="bold" text-anchor="end" fill="#111" stroke="#111" stroke-width="0.2">50</text>
<text x="57.2" y="295.3" font-size="7.9" font-weight="bold" text-anchor="end" fill="#111" stroke="#111" stroke-width="0.2">20</text>
<line x1="58" y1="314.8" x2="62.4" y2="314.8" stroke="#444" stroke-width="1" />
<text x="57.4" y="317.6" font-size="7.9" font-weight="bold" text-anchor="end" fill="#111" stroke="#111" stroke-width="0.2">15</text>
<line x1="58" y1="337.1" x2="62.4" y2="337.1" stroke="#444" stroke-width="1" />
<text x="57.4" y="339.9" font-size="7.9" font-weight="bold" text-anchor="end" fill="#111" stroke="#111" stroke-width="0.2">10</text>
<line x1="58" y1="359.7" x2="62.4" y2="359.7" stroke="#444" stroke-width="1" />
<text x="57.4" y="362.5" font-size="7.9" font-weight="bold" text-anchor="end" fill="#111" stroke="#111" stroke-width="0.2">5</text>
<line x1="58" y1="382.3" x2="62.4" y2="382.3" stroke="#444" stroke-width="1" />
<text x="57.4" y="385.1" font-size="7.9" font-weight="bold" text-anchor="end" fill="#111" stroke="#111" stroke-width="0.2">0</text>
<line x1="57.9" y1="382.3" x2="220" y2="382.3" stroke="#333" stroke-width="1" />
<line x1="81.8" y1="382.3" x2="81.8" y2="386.7" stroke="#444" stroke-width="1" />
<text x="81.8" y="394.5" font-size="7.9" font-weight="bold" text-anchor="middle" fill="#111" stroke="#111" stroke-width="0.2">1</text>
<line x1="111.6" y1="382.3" x2="111.6" y2="386.7" stroke="#444" stroke-width="1" />
<text x="111.6" y="394.5" font-size="7.9" font-weight="bold" text-anchor="middle" fill="#111" stroke="#111" stroke-width="0.2">2</text>
<line x1="141.4" y1="382.3" x2="141.4" y2="386.7" stroke="#444" stroke-width="1" />
<text x="141.4" y="394.5" font-size="7.9" font-weight="bold" text-anchor="middle" fill="#111" stroke="#111" stroke-width="0.2">3</text>
<line x1="171.1" y1="382.3" x2="171.1" y2="386.7" stroke="#444" stroke-width="1" />
<text x="171.1" y="394.5" font-size="7.9" font-weight="bold" text-anchor="middle" fill="#111" stroke="#111" stroke-width="0.2">4</text>
<line x1="200.9" y1="382.3" x2="200.9" y2="386.7" stroke="#444" stroke-width="1" />
<text x="200.9" y="394.5" font-size="7.9" font-weight="bold" text-anchor="middle" fill="#111" stroke="#111" stroke-width="0.2">5</text>
<text x="142.7" y="405.74" font-size="7.9" font-weight="bold" text-anchor="middle" fill="#111" stroke="#111" stroke-width="0.12">Block of 4 Sessions</text>
<text x="38.7" y="317.6" font-size="8.6" font-weight="bold" text-anchor="middle" fill="#111" transform="rotate(-90 38.7 317.6)" stroke="#111" stroke-width="0.12" textLength="58.5" lengthAdjust="spacingAndGlyphs">% Missed Trials</text>
<polyline points="81.8,335.8 111.6,360.1 141.4,367.9 171.1,371.2 200.9,367.5" fill="none" stroke="#6e6e6e" stroke-width="0.8" />
<polyline points="81.8,318.7 111.6,344.5 141.4,352.9 171.1,352.9 200.9,360.1" fill="none" stroke="#1a9996" stroke-width="0.9" />
<polyline points="81.8,329.2 111.6,356.9 141.4,353.3 171.1,366.5 200.9,344.8" fill="none" stroke="#2a62a3" stroke-width="0.9" />
<line x1="81.8" y1="325.2" x2="81.8" y2="346.4" stroke="#858585" stroke-width="1" />
<line x1="79.05" y1="325.2" x2="84.55" y2="325.2" stroke="#858585" stroke-width="1" />
<line x1="79.05" y1="346.4" x2="84.55" y2="346.4" stroke="#858585" stroke-width="1" />
<line x1="111.6" y1="355" x2="111.6" y2="365.3" stroke="#858585" stroke-width="1" />
<line x1="108.85" y1="355" x2="114.35" y2="355" stroke="#858585" stroke-width="1" />
<line x1="108.85" y1="365.3" x2="114.35" y2="365.3" stroke="#858585" stroke-width="1" />
<line x1="141.4" y1="364.2" x2="141.4" y2="371.6" stroke="#858585" stroke-width="1" />
<line x1="138.65" y1="364.2" x2="144.15" y2="364.2" stroke="#858585" stroke-width="1" />
<line x1="138.65" y1="371.6" x2="144.15" y2="371.6" stroke="#858585" stroke-width="1" />
<line x1="171.1" y1="368" x2="171.1" y2="374" stroke="#858585" stroke-width="1" />
<line x1="168.35" y1="368" x2="173.85" y2="368" stroke="#858585" stroke-width="1" />
<line x1="168.35" y1="374" x2="173.85" y2="374" stroke="#858585" stroke-width="1" />
<line x1="200.9" y1="364" x2="200.9" y2="370.5" stroke="#858585" stroke-width="1" />
<line x1="198.15" y1="364" x2="203.65" y2="364" stroke="#858585" stroke-width="1" />
<line x1="198.15" y1="370.5" x2="203.65" y2="370.5" stroke="#858585" stroke-width="1" />
<line x1="81.8" y1="308.3" x2="81.8" y2="329" stroke="#6cc0bd" stroke-width="1" />
<line x1="79.05" y1="308.3" x2="84.55" y2="308.3" stroke="#6cc0bd" stroke-width="1" />
<line x1="79.05" y1="329" x2="84.55" y2="329" stroke="#6cc0bd" stroke-width="1" />
<line x1="111.6" y1="336.2" x2="111.6" y2="352.8" stroke="#6cc0bd" stroke-width="1" />
<line x1="108.85" y1="336.2" x2="114.35" y2="336.2" stroke="#6cc0bd" stroke-width="1" />
<line x1="108.85" y1="352.8" x2="114.35" y2="352.8" stroke="#6cc0bd" stroke-width="1" />
<line x1="141.4" y1="345" x2="141.4" y2="361" stroke="#6cc0bd" stroke-width="1" />
<line x1="138.65" y1="345" x2="144.15" y2="345" stroke="#6cc0bd" stroke-width="1" />
<line x1="138.65" y1="361" x2="144.15" y2="361" stroke="#6cc0bd" stroke-width="1" />
<line x1="171.1" y1="344.8" x2="171.1" y2="361.2" stroke="#6cc0bd" stroke-width="1" />
<line x1="168.35" y1="344.8" x2="173.85" y2="344.8" stroke="#6cc0bd" stroke-width="1" />
<line x1="168.35" y1="361.2" x2="173.85" y2="361.2" stroke="#6cc0bd" stroke-width="1" />
<line x1="200.9" y1="355.9" x2="200.9" y2="364.1" stroke="#6cc0bd" stroke-width="1" />
<line x1="198.15" y1="355.9" x2="203.65" y2="355.9" stroke="#6cc0bd" stroke-width="1" />
<line x1="198.15" y1="364.1" x2="203.65" y2="364.1" stroke="#6cc0bd" stroke-width="1" />
<line x1="81.8" y1="324" x2="81.8" y2="334.5" stroke="#6892c3" stroke-width="1" />
<line x1="79.05" y1="324" x2="84.55" y2="324" stroke="#6892c3" stroke-width="1" />
<line x1="79.05" y1="334.5" x2="84.55" y2="334.5" stroke="#6892c3" stroke-width="1" />
<line x1="111.6" y1="350.4" x2="111.6" y2="362.8" stroke="#6892c3" stroke-width="1" />
<line x1="108.85" y1="350.4" x2="114.35" y2="350.4" stroke="#6892c3" stroke-width="1" />
<line x1="108.85" y1="362.8" x2="114.35" y2="362.8" stroke="#6892c3" stroke-width="1" />
<line x1="141.4" y1="344.5" x2="141.4" y2="361.3" stroke="#6892c3" stroke-width="1" />
<line x1="138.65" y1="344.5" x2="144.15" y2="344.5" stroke="#6892c3" stroke-width="1" />
<line x1="138.65" y1="361.3" x2="144.15" y2="361.3" stroke="#6892c3" stroke-width="1" />
<line x1="171.1" y1="361.4" x2="171.1" y2="371.6" stroke="#6892c3" stroke-width="1" />
<line x1="168.35" y1="361.4" x2="173.85" y2="361.4" stroke="#6892c3" stroke-width="1" />
<line x1="168.35" y1="371.6" x2="173.85" y2="371.6" stroke="#6892c3" stroke-width="1" />
<line x1="200.9" y1="337.4" x2="200.9" y2="351.7" stroke="#6892c3" stroke-width="1" />
<line x1="198.15" y1="337.4" x2="203.65" y2="337.4" stroke="#6892c3" stroke-width="1" />
<line x1="198.15" y1="351.7" x2="203.65" y2="351.7" stroke="#6892c3" stroke-width="1" />
<circle cx="81.8" cy="335.8" r="3.1" fill="#e6e6e6" stroke="#7a7a7a" stroke-width="0.8"/>
<circle cx="111.6" cy="360.1" r="3.1" fill="#e6e6e6" stroke="#7a7a7a" stroke-width="0.8"/>
<circle cx="141.4" cy="367.9" r="3.1" fill="#e6e6e6" stroke="#7a7a7a" stroke-width="0.8"/>
<circle cx="171.1" cy="371.2" r="3.1" fill="#e6e6e6" stroke="#7a7a7a" stroke-width="0.8"/>
<circle cx="200.9" cy="367.5" r="3.1" fill="#e6e6e6" stroke="#7a7a7a" stroke-width="0.8"/>
<circle cx="81.8" cy="318.7" r="3.2" fill="#0e928f" stroke="none" stroke-width="0"/>
<circle cx="111.6" cy="344.5" r="3.2" fill="#0e928f" stroke="none" stroke-width="0"/>
<circle cx="141.4" cy="352.9" r="3.2" fill="#0e928f" stroke="none" stroke-width="0"/>
<circle cx="171.1" cy="352.9" r="3.2" fill="#0e928f" stroke="none" stroke-width="0"/>
<circle cx="200.9" cy="360.1" r="3.2" fill="#0e928f" stroke="none" stroke-width="0"/>
<circle cx="81.8" cy="329.2" r="3.2" fill="#0b4b8d" stroke="none" stroke-width="0"/>
<circle cx="111.6" cy="356.9" r="3.2" fill="#0b4b8d" stroke="none" stroke-width="0"/>
<circle cx="141.4" cy="353.3" r="3.2" fill="#0b4b8d" stroke="none" stroke-width="0"/>
<circle cx="171.1" cy="366.5" r="3.2" fill="#0b4b8d" stroke="none" stroke-width="0"/>
<circle cx="200.9" cy="344.8" r="3.2" fill="#0b4b8d" stroke="none" stroke-width="0"/>
<text transform="matrix(0.13912 0 0 0.18314 258.159 260.800)" font-size="100" font-weight="normal" fill="#111" stroke="#111" stroke-width="2.16">F</text>
<line x1="290.6" y1="254.2" x2="290.6" y2="381.7" stroke="#333" stroke-width="1" />
<line x1="286.2" y1="254.2" x2="290.6" y2="254.2" stroke="#444" stroke-width="1" />
<text x="285.6" y="257" font-size="7.9" font-weight="bold" text-anchor="end" fill="#111" stroke="#111" stroke-width="0.2">40</text>
<line x1="286.2" y1="286.1" x2="290.6" y2="286.1" stroke="#444" stroke-width="1" />
<text x="285.6" y="288.9" font-size="7.9" font-weight="bold" text-anchor="end" fill="#111" stroke="#111" stroke-width="0.2">30</text>
<line x1="286.2" y1="318" x2="290.6" y2="318" stroke="#444" stroke-width="1" />
<text x="285.6" y="320.8" font-size="7.9" font-weight="bold" text-anchor="end" fill="#111" stroke="#111" stroke-width="0.2">20</text>
<line x1="286.2" y1="349.9" x2="290.6" y2="349.9" stroke="#444" stroke-width="1" />
<text x="285.6" y="352.7" font-size="7.9" font-weight="bold" text-anchor="end" fill="#111" stroke="#111" stroke-width="0.2">10</text>
<line x1="286.2" y1="381.7" x2="290.6" y2="381.7" stroke="#444" stroke-width="1" />
<text x="285.6" y="384.5" font-size="7.9" font-weight="bold" text-anchor="end" fill="#111" stroke="#111" stroke-width="0.2">0</text>
<line x1="286.1" y1="381.7" x2="444.9" y2="381.7" stroke="#333" stroke-width="1" />
<line x1="309.4" y1="381.7" x2="309.4" y2="386.1" stroke="#444" stroke-width="1" />
<text x="309.4" y="393.9" font-size="7.9" font-weight="bold" text-anchor="middle" fill="#111" stroke="#111" stroke-width="0.2">1</text>
<line x1="338.7" y1="381.7" x2="338.7" y2="386.1" stroke="#444" stroke-width="1" />
<text x="338.7" y="393.9" font-size="7.9" font-weight="bold" text-anchor="middle" fill="#111" stroke="#111" stroke-width="0.2">2</text>
<line x1="367.9" y1="381.7" x2="367.9" y2="386.1" stroke="#444" stroke-width="1" />
<text x="367.9" y="393.9" font-size="7.9" font-weight="bold" text-anchor="middle" fill="#111" stroke="#111" stroke-width="0.2">3</text>
<line x1="397.1" y1="381.7" x2="397.1" y2="386.1" stroke="#444" stroke-width="1" />
<text x="397.1" y="393.9" font-size="7.9" font-weight="bold" text-anchor="middle" fill="#111" stroke="#111" stroke-width="0.2">4</text>
<line x1="426.3" y1="381.7" x2="426.3" y2="386.1" stroke="#444" stroke-width="1" />
<text x="426.3" y="393.9" font-size="7.9" font-weight="bold" text-anchor="middle" fill="#111" stroke="#111" stroke-width="0.2">5</text>
<text x="369.8" y="405.94" font-size="7.9" font-weight="bold" text-anchor="middle" fill="#111" stroke="#111" stroke-width="0.12">Block of 4 Sessions</text>
<text x="274.8" y="316.4" font-size="8.6" font-weight="bold" text-anchor="middle" fill="#111" transform="rotate(-90 274.8 316.4)" stroke="#111" stroke-width="0.12" textLength="105.7" lengthAdjust="spacingAndGlyphs">Correction trials/ session&#160; (#)</text>
<polyline points="437.3,331.3 442.7,331.3 442.7,350 437.3,350" fill="none" stroke="#111" stroke-width="1.1" />
<path d="M447.8 338.5V342.9M445.89 339.6L449.71 341.8M445.89 341.8L449.71 339.6" stroke="#111" stroke-width="1.3" stroke-linecap="round" fill="none"/>
<circle cx="447.8" cy="340.7" r="1.21" fill="#111"/>
<path d="M453.3 338.5V342.9M451.39 339.6L455.21 341.8M451.39 341.8L455.21 339.6" stroke="#111" stroke-width="1.3" stroke-linecap="round" fill="none"/>
<circle cx="453.3" cy="340.7" r="1.21" fill="#111"/>
<polyline points="309.4,304.2 338.7,326.4 367.9,343.7 397.1,354 426.3,349.4" fill="none" stroke="#6e6e6e" stroke-width="0.8" />
<polyline points="309.4,287.3 338.7,304.7 367.9,318.1 397.1,331.9 426.3,330.3" fill="none" stroke="#1a9996" stroke-width="0.9" />
<polyline points="309.4,301.1 338.7,304.7 367.9,320.1 397.1,336.6 426.3,331.3" fill="none" stroke="#2a62a3" stroke-width="0.9" />
<line x1="309.4" y1="296.4" x2="309.4" y2="310.5" stroke="#858585" stroke-width="1" />
<line x1="306.65" y1="296.4" x2="312.15" y2="296.4" stroke="#858585" stroke-width="1" />
<line x1="306.65" y1="310.5" x2="312.15" y2="310.5" stroke="#858585" stroke-width="1" />
<line x1="338.7" y1="321.5" x2="338.7" y2="331.3" stroke="#858585" stroke-width="1" />
<line x1="335.95" y1="321.5" x2="341.45" y2="321.5" stroke="#858585" stroke-width="1" />
<line x1="335.95" y1="331.3" x2="341.45" y2="331.3" stroke="#858585" stroke-width="1" />
<line x1="367.9" y1="339.2" x2="367.9" y2="348.1" stroke="#858585" stroke-width="1" />
<line x1="365.15" y1="339.2" x2="370.65" y2="339.2" stroke="#858585" stroke-width="1" />
<line x1="365.15" y1="348.1" x2="370.65" y2="348.1" stroke="#858585" stroke-width="1" />
<line x1="397.1" y1="351" x2="397.1" y2="357" stroke="#858585" stroke-width="1" />
<line x1="394.35" y1="351" x2="399.85" y2="351" stroke="#858585" stroke-width="1" />
<line x1="394.35" y1="357" x2="399.85" y2="357" stroke="#858585" stroke-width="1" />
<line x1="426.3" y1="346" x2="426.3" y2="352.8" stroke="#858585" stroke-width="1" />
<line x1="423.55" y1="346" x2="429.05" y2="346" stroke="#858585" stroke-width="1" />
<line x1="423.55" y1="352.8" x2="429.05" y2="352.8" stroke="#858585" stroke-width="1" />
<line x1="309.4" y1="280.5" x2="309.4" y2="294" stroke="#6cc0bd" stroke-width="1" />
<line x1="306.65" y1="280.5" x2="312.15" y2="280.5" stroke="#6cc0bd" stroke-width="1" />
<line x1="306.65" y1="294" x2="312.15" y2="294" stroke="#6cc0bd" stroke-width="1" />
<line x1="338.7" y1="297.8" x2="338.7" y2="311.6" stroke="#6cc0bd" stroke-width="1" />
<line x1="335.95" y1="297.8" x2="341.45" y2="297.8" stroke="#6cc0bd" stroke-width="1" />
<line x1="335.95" y1="311.6" x2="341.45" y2="311.6" stroke="#6cc0bd" stroke-width="1" />
<line x1="367.9" y1="310.6" x2="367.9" y2="325.6" stroke="#6cc0bd" stroke-width="1" />
<line x1="365.15" y1="310.6" x2="370.65" y2="310.6" stroke="#6cc0bd" stroke-width="1" />
<line x1="365.15" y1="325.6" x2="370.65" y2="325.6" stroke="#6cc0bd" stroke-width="1" />
<line x1="397.1" y1="326" x2="397.1" y2="337.8" stroke="#6cc0bd" stroke-width="1" />
<line x1="394.35" y1="326" x2="399.85" y2="326" stroke="#6cc0bd" stroke-width="1" />
<line x1="394.35" y1="337.8" x2="399.85" y2="337.8" stroke="#6cc0bd" stroke-width="1" />
<line x1="426.3" y1="324.4" x2="426.3" y2="336.2" stroke="#6cc0bd" stroke-width="1" />
<line x1="423.55" y1="324.4" x2="429.05" y2="324.4" stroke="#6cc0bd" stroke-width="1" />
<line x1="423.55" y1="336.2" x2="429.05" y2="336.2" stroke="#6cc0bd" stroke-width="1" />
<line x1="309.4" y1="293.6" x2="309.4" y2="309" stroke="#6892c3" stroke-width="1" />
<line x1="306.65" y1="293.6" x2="312.15" y2="293.6" stroke="#6892c3" stroke-width="1" />
<line x1="306.65" y1="309" x2="312.15" y2="309" stroke="#6892c3" stroke-width="1" />
<line x1="338.7" y1="298" x2="338.7" y2="311.6" stroke="#6892c3" stroke-width="1" />
<line x1="335.95" y1="298" x2="341.45" y2="298" stroke="#6892c3" stroke-width="1" />
<line x1="335.95" y1="311.6" x2="341.45" y2="311.6" stroke="#6892c3" stroke-width="1" />
<line x1="367.9" y1="313" x2="367.9" y2="327" stroke="#6892c3" stroke-width="1" />
<line x1="365.15" y1="313" x2="370.65" y2="313" stroke="#6892c3" stroke-width="1" />
<line x1="365.15" y1="327" x2="370.65" y2="327" stroke="#6892c3" stroke-width="1" />
<line x1="397.1" y1="331.5" x2="397.1" y2="341.2" stroke="#6892c3" stroke-width="1" />
<line x1="394.35" y1="331.5" x2="399.85" y2="331.5" stroke="#6892c3" stroke-width="1" />
<line x1="394.35" y1="341.2" x2="399.85" y2="341.2" stroke="#6892c3" stroke-width="1" />
<line x1="426.3" y1="326" x2="426.3" y2="336.6" stroke="#6892c3" stroke-width="1" />
<line x1="423.55" y1="326" x2="429.05" y2="326" stroke="#6892c3" stroke-width="1" />
<line x1="423.55" y1="336.6" x2="429.05" y2="336.6" stroke="#6892c3" stroke-width="1" />
<circle cx="309.4" cy="304.2" r="3.15" fill="#e6e6e6" stroke="#7a7a7a" stroke-width="0.8"/>
<circle cx="338.7" cy="326.4" r="3.15" fill="#e6e6e6" stroke="#7a7a7a" stroke-width="0.8"/>
<circle cx="367.9" cy="343.7" r="3.15" fill="#e6e6e6" stroke="#7a7a7a" stroke-width="0.8"/>
<circle cx="397.1" cy="354" r="3.15" fill="#e6e6e6" stroke="#7a7a7a" stroke-width="0.8"/>
<circle cx="426.3" cy="349.4" r="3.15" fill="#e6e6e6" stroke="#7a7a7a" stroke-width="0.8"/>
<circle cx="309.4" cy="287.3" r="3.25" fill="#0e928f" stroke="none" stroke-width="0"/>
<circle cx="338.7" cy="304.7" r="3.25" fill="#0e928f" stroke="none" stroke-width="0"/>
<circle cx="367.9" cy="318.1" r="3.25" fill="#0e928f" stroke="none" stroke-width="0"/>
<circle cx="397.1" cy="331.9" r="3.25" fill="#0e928f" stroke="none" stroke-width="0"/>
<circle cx="426.3" cy="330.3" r="3.25" fill="#0e928f" stroke="none" stroke-width="0"/>
<circle cx="309.4" cy="301.1" r="3.25" fill="#0b4b8d" stroke="none" stroke-width="0"/>
<circle cx="338.7" cy="304.7" r="3.25" fill="#0b4b8d" stroke="none" stroke-width="0"/>
<circle cx="367.9" cy="320.1" r="3.25" fill="#0b4b8d" stroke="none" stroke-width="0"/>
<circle cx="397.1" cy="336.6" r="3.25" fill="#0b4b8d" stroke="none" stroke-width="0"/>
<circle cx="426.3" cy="331.3" r="3.25" fill="#0b4b8d" stroke="none" stroke-width="0"/>
<text transform="matrix(0.15777 0 0 0.17231 485.707 260.232)" font-size="100" font-weight="normal" fill="#111" stroke="#111" stroke-width="1.9">G</text>
<line x1="525.3" y1="254.5" x2="525.3" y2="382.1" stroke="#333" stroke-width="1" />
<line x1="520.9" y1="254.5" x2="525.3" y2="254.5" stroke="#444" stroke-width="1" />
<text x="520.3" y="257.3" font-size="7.9" font-weight="bold" text-anchor="end" fill="#111" stroke="#111" stroke-width="0.2">4</text>
<line x1="520.9" y1="286.4" x2="525.3" y2="286.4" stroke="#444" stroke-width="1" />
<text x="520.3" y="289.2" font-size="7.9" font-weight="bold" text-anchor="end" fill="#111" stroke="#111" stroke-width="0.2">3</text>
<line x1="520.9" y1="318.3" x2="525.3" y2="318.3" stroke="#444" stroke-width="1" />
<text x="520.3" y="321.1" font-size="7.9" font-weight="bold" text-anchor="end" fill="#111" stroke="#111" stroke-width="0.2">2</text>
<line x1="520.9" y1="350.2" x2="525.3" y2="350.2" stroke="#444" stroke-width="1" />
<text x="520.3" y="353" font-size="7.9" font-weight="bold" text-anchor="end" fill="#111" stroke="#111" stroke-width="0.2">1</text>
<line x1="520.9" y1="382.1" x2="525.3" y2="382.1" stroke="#444" stroke-width="1" />
<text x="520.3" y="384.9" font-size="7.9" font-weight="bold" text-anchor="end" fill="#111" stroke="#111" stroke-width="0.2">0</text>
<line x1="520.8" y1="382.1" x2="682.5" y2="382.1" stroke="#333" stroke-width="1" />
<line x1="544.7" y1="382.1" x2="544.7" y2="386.5" stroke="#444" stroke-width="1" />
<text x="544.7" y="394.3" font-size="7.9" font-weight="bold" text-anchor="middle" fill="#111" stroke="#111" stroke-width="0.2">1</text>
<line x1="574.4" y1="382.1" x2="574.4" y2="386.5" stroke="#444" stroke-width="1" />
<text x="574.4" y="394.3" font-size="7.9" font-weight="bold" text-anchor="middle" fill="#111" stroke="#111" stroke-width="0.2">2</text>
<line x1="604" y1="382.1" x2="604" y2="386.5" stroke="#444" stroke-width="1" />
<text x="604" y="394.3" font-size="7.9" font-weight="bold" text-anchor="middle" fill="#111" stroke="#111" stroke-width="0.2">3</text>
<line x1="633.6" y1="382.1" x2="633.6" y2="386.5" stroke="#444" stroke-width="1" />
<text x="633.6" y="394.3" font-size="7.9" font-weight="bold" text-anchor="middle" fill="#111" stroke="#111" stroke-width="0.2">4</text>
<line x1="663.4" y1="382.1" x2="663.4" y2="386.5" stroke="#444" stroke-width="1" />
<text x="663.4" y="394.3" font-size="7.9" font-weight="bold" text-anchor="middle" fill="#111" stroke="#111" stroke-width="0.2">5</text>
<text x="606.1" y="405.94" font-size="7.9" font-weight="bold" text-anchor="middle" fill="#111" stroke="#111" stroke-width="0.12">Block of 4 Sessions</text>
<text x="502.62" y="312.8" font-size="8.4" font-weight="bold" text-anchor="middle" fill="#111" transform="rotate(-90 502.62 312.8)" stroke="#111" stroke-width="0.12" textLength="79" lengthAdjust="spacingAndGlyphs">Perseveration Index</text>
<text x="512.52" y="316.9" font-size="8.4" font-weight="bold" text-anchor="middle" fill="#111" transform="rotate(-90 512.52 316.9)" stroke="#111" stroke-width="0.12" textLength="119.5" lengthAdjust="spacingAndGlyphs">(correction trials / incorrect trials)</text>
<polyline points="672.2,304.4 677.1,304.4 677.1,322.9 672.2,322.9" fill="none" stroke="#111" stroke-width="1.1" />
<path d="M682.4 311.8V316.2M680.49 312.9L684.31 315.1M680.49 315.1L684.31 312.9" stroke="#111" stroke-width="1.3" stroke-linecap="round" fill="none"/>
<circle cx="682.4" cy="314" r="1.21" fill="#111"/>
<polyline points="544.7,305.3 574.4,312.5 604,331.5 633.6,331.5 663.4,322.4" fill="none" stroke="#6e6e6e" stroke-width="0.8" />
<polyline points="544.7,282.7 574.4,294.5 604,298.2 633.6,315.5 663.4,309.8" fill="none" stroke="#1a9996" stroke-width="0.9" />
<polyline points="544.7,289.4 574.4,304.4 604,306.8 633.6,324.1 663.4,305.1" fill="none" stroke="#2a62a3" stroke-width="0.9" />
<line x1="544.7" y1="298.3" x2="544.7" y2="312.3" stroke="#858585" stroke-width="1" />
<line x1="541.95" y1="298.3" x2="547.45" y2="298.3" stroke="#858585" stroke-width="1" />
<line x1="541.95" y1="312.3" x2="547.45" y2="312.3" stroke="#858585" stroke-width="1" />
<line x1="574.4" y1="307.8" x2="574.4" y2="317.2" stroke="#858585" stroke-width="1" />
<line x1="571.65" y1="307.8" x2="577.15" y2="307.8" stroke="#858585" stroke-width="1" />
<line x1="571.65" y1="317.2" x2="577.15" y2="317.2" stroke="#858585" stroke-width="1" />
<line x1="604" y1="327" x2="604" y2="335.2" stroke="#858585" stroke-width="1" />
<line x1="601.25" y1="327" x2="606.75" y2="327" stroke="#858585" stroke-width="1" />
<line x1="601.25" y1="335.2" x2="606.75" y2="335.2" stroke="#858585" stroke-width="1" />
<line x1="633.6" y1="327.8" x2="633.6" y2="335.2" stroke="#858585" stroke-width="1" />
<line x1="630.85" y1="327.8" x2="636.35" y2="327.8" stroke="#858585" stroke-width="1" />
<line x1="630.85" y1="335.2" x2="636.35" y2="335.2" stroke="#858585" stroke-width="1" />
<line x1="663.4" y1="317" x2="663.4" y2="327.8" stroke="#858585" stroke-width="1" />
<line x1="660.65" y1="317" x2="666.15" y2="317" stroke="#858585" stroke-width="1" />
<line x1="660.65" y1="327.8" x2="666.15" y2="327.8" stroke="#858585" stroke-width="1" />
<line x1="544.7" y1="274.6" x2="544.7" y2="290.8" stroke="#6cc0bd" stroke-width="1" />
<line x1="541.95" y1="274.6" x2="547.45" y2="274.6" stroke="#6cc0bd" stroke-width="1" />
<line x1="541.95" y1="290.8" x2="547.45" y2="290.8" stroke="#6cc0bd" stroke-width="1" />
<line x1="574.4" y1="287.1" x2="574.4" y2="301.9" stroke="#6cc0bd" stroke-width="1" />
<line x1="571.65" y1="287.1" x2="577.15" y2="287.1" stroke="#6cc0bd" stroke-width="1" />
<line x1="571.65" y1="301.9" x2="577.15" y2="301.9" stroke="#6cc0bd" stroke-width="1" />
<line x1="604" y1="288.4" x2="604" y2="308" stroke="#6cc0bd" stroke-width="1" />
<line x1="601.25" y1="288.4" x2="606.75" y2="288.4" stroke="#6cc0bd" stroke-width="1" />
<line x1="601.25" y1="308" x2="606.75" y2="308" stroke="#6cc0bd" stroke-width="1" />
<line x1="633.6" y1="309.3" x2="633.6" y2="321.7" stroke="#6cc0bd" stroke-width="1" />
<line x1="630.85" y1="309.3" x2="636.35" y2="309.3" stroke="#6cc0bd" stroke-width="1" />
<line x1="630.85" y1="321.7" x2="636.35" y2="321.7" stroke="#6cc0bd" stroke-width="1" />
<line x1="663.4" y1="296" x2="663.4" y2="323" stroke="#6cc0bd" stroke-width="1" />
<line x1="660.65" y1="296" x2="666.15" y2="296" stroke="#6cc0bd" stroke-width="1" />
<line x1="660.65" y1="323" x2="666.15" y2="323" stroke="#6cc0bd" stroke-width="1" />
<line x1="544.7" y1="281.4" x2="544.7" y2="297.4" stroke="#6892c3" stroke-width="1" />
<line x1="541.95" y1="281.4" x2="547.45" y2="281.4" stroke="#6892c3" stroke-width="1" />
<line x1="541.95" y1="297.4" x2="547.45" y2="297.4" stroke="#6892c3" stroke-width="1" />
<line x1="574.4" y1="297" x2="574.4" y2="311.8" stroke="#6892c3" stroke-width="1" />
<line x1="571.65" y1="297" x2="577.15" y2="297" stroke="#6892c3" stroke-width="1" />
<line x1="571.65" y1="311.8" x2="577.15" y2="311.8" stroke="#6892c3" stroke-width="1" />
<line x1="604" y1="298.9" x2="604" y2="314.7" stroke="#6892c3" stroke-width="1" />
<line x1="601.25" y1="298.9" x2="606.75" y2="298.9" stroke="#6892c3" stroke-width="1" />
<line x1="601.25" y1="314.7" x2="606.75" y2="314.7" stroke="#6892c3" stroke-width="1" />
<line x1="633.6" y1="319" x2="633.6" y2="329" stroke="#6892c3" stroke-width="1" />
<line x1="630.85" y1="319" x2="636.35" y2="319" stroke="#6892c3" stroke-width="1" />
<line x1="630.85" y1="329" x2="636.35" y2="329" stroke="#6892c3" stroke-width="1" />
<line x1="663.4" y1="293.8" x2="663.4" y2="316.4" stroke="#6892c3" stroke-width="1" />
<line x1="660.65" y1="293.8" x2="666.15" y2="293.8" stroke="#6892c3" stroke-width="1" />
<line x1="660.65" y1="316.4" x2="666.15" y2="316.4" stroke="#6892c3" stroke-width="1" />
<circle cx="544.7" cy="305.3" r="3.15" fill="#e6e6e6" stroke="#7a7a7a" stroke-width="0.8"/>
<circle cx="574.4" cy="312.5" r="3.15" fill="#e6e6e6" stroke="#7a7a7a" stroke-width="0.8"/>
<circle cx="604" cy="331.5" r="3.15" fill="#e6e6e6" stroke="#7a7a7a" stroke-width="0.8"/>
<circle cx="633.6" cy="331.5" r="3.15" fill="#e6e6e6" stroke="#7a7a7a" stroke-width="0.8"/>
<circle cx="663.4" cy="322.4" r="3.15" fill="#e6e6e6" stroke="#7a7a7a" stroke-width="0.8"/>
<circle cx="544.7" cy="282.7" r="3.25" fill="#0e928f" stroke="none" stroke-width="0"/>
<circle cx="574.4" cy="294.5" r="3.25" fill="#0e928f" stroke="none" stroke-width="0"/>
<circle cx="604" cy="298.2" r="3.25" fill="#0e928f" stroke="none" stroke-width="0"/>
<circle cx="633.6" cy="315.5" r="3.25" fill="#0e928f" stroke="none" stroke-width="0"/>
<circle cx="663.4" cy="309.8" r="3.25" fill="#0e928f" stroke="none" stroke-width="0"/>
<circle cx="544.7" cy="289.4" r="3.25" fill="#0b4b8d" stroke="none" stroke-width="0"/>
<circle cx="574.4" cy="304.4" r="3.25" fill="#0b4b8d" stroke="none" stroke-width="0"/>
<circle cx="604" cy="306.8" r="3.25" fill="#0b4b8d" stroke="none" stroke-width="0"/>
<circle cx="633.6" cy="324.1" r="3.25" fill="#0b4b8d" stroke="none" stroke-width="0"/>
<circle cx="663.4" cy="305.1" r="3.25" fill="#0b4b8d" stroke="none" stroke-width="0"/>
<text transform="matrix(0.17007 0 0 0.18314 23.805 424.600)" font-size="100" font-weight="normal" fill="#111" stroke="#111" stroke-width="1.76">H</text>
<line x1="65.6" y1="416.6" x2="65.6" y2="543.8" stroke="#333" stroke-width="1" />
<line x1="61.2" y1="416.6" x2="65.6" y2="416.6" stroke="#444" stroke-width="1" />
<text x="60.6" y="419.4" font-size="7.9" font-weight="bold" text-anchor="end" fill="#111" stroke="#111" stroke-width="0.2">2.0</text>
<line x1="61.2" y1="448.4" x2="65.6" y2="448.4" stroke="#444" stroke-width="1" />
<text x="60.6" y="451.2" font-size="7.9" font-weight="bold" text-anchor="end" fill="#111" stroke="#111" stroke-width="0.2">1.5</text>
<line x1="61.2" y1="480.2" x2="65.6" y2="480.2" stroke="#444" stroke-width="1" />
<text x="60.6" y="483" font-size="7.9" font-weight="bold" text-anchor="end" fill="#111" stroke="#111" stroke-width="0.2">1.0</text>
<line x1="61.2" y1="512" x2="65.6" y2="512" stroke="#444" stroke-width="1" />
<text x="60.6" y="514.8" font-size="7.9" font-weight="bold" text-anchor="end" fill="#111" stroke="#111" stroke-width="0.2">0.5</text>
<line x1="61.2" y1="543.8" x2="65.6" y2="543.8" stroke="#444" stroke-width="1" />
<text x="60.6" y="546.6" font-size="7.9" font-weight="bold" text-anchor="end" fill="#111" stroke="#111" stroke-width="0.2">0.0</text>
<line x1="61.1" y1="543.8" x2="227" y2="543.8" stroke="#333" stroke-width="1" />
<line x1="85.7" y1="543.8" x2="85.7" y2="548.2" stroke="#444" stroke-width="1" />
<text x="85.7" y="556" font-size="7.9" font-weight="bold" text-anchor="middle" fill="#111" stroke="#111" stroke-width="0.2">1</text>
<line x1="116" y1="543.8" x2="116" y2="548.2" stroke="#444" stroke-width="1" />
<text x="116" y="556" font-size="7.9" font-weight="bold" text-anchor="middle" fill="#111" stroke="#111" stroke-width="0.2">2</text>
<line x1="146.5" y1="543.8" x2="146.5" y2="548.2" stroke="#444" stroke-width="1" />
<text x="146.5" y="556" font-size="7.9" font-weight="bold" text-anchor="middle" fill="#111" stroke="#111" stroke-width="0.2">3</text>
<line x1="176.9" y1="543.8" x2="176.9" y2="548.2" stroke="#444" stroke-width="1" />
<text x="176.9" y="556" font-size="7.9" font-weight="bold" text-anchor="middle" fill="#111" stroke="#111" stroke-width="0.2">4</text>
<line x1="206.8" y1="543.8" x2="206.8" y2="548.2" stroke="#444" stroke-width="1" />
<text x="206.8" y="556" font-size="7.9" font-weight="bold" text-anchor="middle" fill="#111" stroke="#111" stroke-width="0.2">5</text>
<text x="148" y="567.54" font-size="7.9" font-weight="bold" text-anchor="middle" fill="#111" stroke="#111" stroke-width="0.12">Block of 4 Sessions</text>
<text x="46.5" y="478.8" font-size="8.6" font-weight="bold" text-anchor="middle" fill="#111" transform="rotate(-90 46.5 478.8)" stroke="#111" stroke-width="0.12" textLength="88.2" lengthAdjust="spacingAndGlyphs">Correct touch latency (s)</text>
<polyline points="85.7,485 116,480.2 146.5,479.8 176.9,480.8 206.8,480.3" fill="none" stroke="#6e6e6e" stroke-width="0.8" />
<polyline points="85.7,484.5 116,478.8 146.5,481.5 176.9,479.6 206.8,482" fill="none" stroke="#1a9996" stroke-width="0.9" />
<polyline points="85.7,485.1 116,482 146.5,483 176.9,483.6 206.8,489" fill="none" stroke="#2a62a3" stroke-width="0.9" />
<line x1="85.7" y1="481.6" x2="85.7" y2="488.4" stroke="#858585" stroke-width="1" />
<line x1="82.95" y1="481.6" x2="88.45" y2="481.6" stroke="#858585" stroke-width="1" />
<line x1="82.95" y1="488.4" x2="88.45" y2="488.4" stroke="#858585" stroke-width="1" />
<line x1="116" y1="476.8" x2="116" y2="483.6" stroke="#858585" stroke-width="1" />
<line x1="113.25" y1="476.8" x2="118.75" y2="476.8" stroke="#858585" stroke-width="1" />
<line x1="113.25" y1="483.6" x2="118.75" y2="483.6" stroke="#858585" stroke-width="1" />
<line x1="146.5" y1="476.4" x2="146.5" y2="483.2" stroke="#858585" stroke-width="1" />
<line x1="143.75" y1="476.4" x2="149.25" y2="476.4" stroke="#858585" stroke-width="1" />
<line x1="143.75" y1="483.2" x2="149.25" y2="483.2" stroke="#858585" stroke-width="1" />
<line x1="176.9" y1="477.4" x2="176.9" y2="484.2" stroke="#858585" stroke-width="1" />
<line x1="174.15" y1="477.4" x2="179.65" y2="477.4" stroke="#858585" stroke-width="1" />
<line x1="174.15" y1="484.2" x2="179.65" y2="484.2" stroke="#858585" stroke-width="1" />
<line x1="206.8" y1="476.9" x2="206.8" y2="483.7" stroke="#858585" stroke-width="1" />
<line x1="204.05" y1="476.9" x2="209.55" y2="476.9" stroke="#858585" stroke-width="1" />
<line x1="204.05" y1="483.7" x2="209.55" y2="483.7" stroke="#858585" stroke-width="1" />
<line x1="85.7" y1="480.6" x2="85.7" y2="488.4" stroke="#6cc0bd" stroke-width="1" />
<line x1="82.95" y1="480.6" x2="88.45" y2="480.6" stroke="#6cc0bd" stroke-width="1" />
<line x1="82.95" y1="488.4" x2="88.45" y2="488.4" stroke="#6cc0bd" stroke-width="1" />
<line x1="116" y1="474.9" x2="116" y2="482.7" stroke="#6cc0bd" stroke-width="1" />
<line x1="113.25" y1="474.9" x2="118.75" y2="474.9" stroke="#6cc0bd" stroke-width="1" />
<line x1="113.25" y1="482.7" x2="118.75" y2="482.7" stroke="#6cc0bd" stroke-width="1" />
<line x1="146.5" y1="477.6" x2="146.5" y2="485.4" stroke="#6cc0bd" stroke-width="1" />
<line x1="143.75" y1="477.6" x2="149.25" y2="477.6" stroke="#6cc0bd" stroke-width="1" />
<line x1="143.75" y1="485.4" x2="149.25" y2="485.4" stroke="#6cc0bd" stroke-width="1" />
<line x1="176.9" y1="475.7" x2="176.9" y2="483.5" stroke="#6cc0bd" stroke-width="1" />
<line x1="174.15" y1="475.7" x2="179.65" y2="475.7" stroke="#6cc0bd" stroke-width="1" />
<line x1="174.15" y1="483.5" x2="179.65" y2="483.5" stroke="#6cc0bd" stroke-width="1" />
<line x1="206.8" y1="478.1" x2="206.8" y2="485.9" stroke="#6cc0bd" stroke-width="1" />
<line x1="204.05" y1="478.1" x2="209.55" y2="478.1" stroke="#6cc0bd" stroke-width="1" />
<line x1="204.05" y1="485.9" x2="209.55" y2="485.9" stroke="#6cc0bd" stroke-width="1" />
<line x1="85.7" y1="481.1" x2="85.7" y2="489.1" stroke="#6892c3" stroke-width="1" />
<line x1="82.95" y1="481.1" x2="88.45" y2="481.1" stroke="#6892c3" stroke-width="1" />
<line x1="82.95" y1="489.1" x2="88.45" y2="489.1" stroke="#6892c3" stroke-width="1" />
<line x1="116" y1="478" x2="116" y2="486" stroke="#6892c3" stroke-width="1" />
<line x1="113.25" y1="478" x2="118.75" y2="478" stroke="#6892c3" stroke-width="1" />
<line x1="113.25" y1="486" x2="118.75" y2="486" stroke="#6892c3" stroke-width="1" />
<line x1="146.5" y1="479" x2="146.5" y2="487" stroke="#6892c3" stroke-width="1" />
<line x1="143.75" y1="479" x2="149.25" y2="479" stroke="#6892c3" stroke-width="1" />
<line x1="143.75" y1="487" x2="149.25" y2="487" stroke="#6892c3" stroke-width="1" />
<line x1="176.9" y1="479.6" x2="176.9" y2="487.6" stroke="#6892c3" stroke-width="1" />
<line x1="174.15" y1="479.6" x2="179.65" y2="479.6" stroke="#6892c3" stroke-width="1" />
<line x1="174.15" y1="487.6" x2="179.65" y2="487.6" stroke="#6892c3" stroke-width="1" />
<line x1="206.8" y1="485" x2="206.8" y2="493" stroke="#6892c3" stroke-width="1" />
<line x1="204.05" y1="485" x2="209.55" y2="485" stroke="#6892c3" stroke-width="1" />
<line x1="204.05" y1="493" x2="209.55" y2="493" stroke="#6892c3" stroke-width="1" />
<circle cx="85.7" cy="485" r="3.15" fill="#e6e6e6" stroke="#7a7a7a" stroke-width="0.8"/>
<circle cx="116" cy="480.2" r="3.15" fill="#e6e6e6" stroke="#7a7a7a" stroke-width="0.8"/>
<circle cx="146.5" cy="479.8" r="3.15" fill="#e6e6e6" stroke="#7a7a7a" stroke-width="0.8"/>
<circle cx="176.9" cy="480.8" r="3.15" fill="#e6e6e6" stroke="#7a7a7a" stroke-width="0.8"/>
<circle cx="206.8" cy="480.3" r="3.15" fill="#e6e6e6" stroke="#7a7a7a" stroke-width="0.8"/>
<circle cx="85.7" cy="484.5" r="3.25" fill="#0e928f" stroke="none" stroke-width="0"/>
<circle cx="116" cy="478.8" r="3.25" fill="#0e928f" stroke="none" stroke-width="0"/>
<circle cx="146.5" cy="481.5" r="3.25" fill="#0e928f" stroke="none" stroke-width="0"/>
<circle cx="176.9" cy="479.6" r="3.25" fill="#0e928f" stroke="none" stroke-width="0"/>
<circle cx="206.8" cy="482" r="3.25" fill="#0e928f" stroke="none" stroke-width="0"/>
<circle cx="85.7" cy="485.1" r="3.25" fill="#0b4b8d" stroke="none" stroke-width="0"/>
<circle cx="116" cy="482" r="3.25" fill="#0b4b8d" stroke="none" stroke-width="0"/>
<circle cx="146.5" cy="483" r="3.25" fill="#0b4b8d" stroke="none" stroke-width="0"/>
<circle cx="176.9" cy="483.6" r="3.25" fill="#0b4b8d" stroke="none" stroke-width="0"/>
<circle cx="206.8" cy="489" r="3.25" fill="#0b4b8d" stroke="none" stroke-width="0"/>
<rect x="259" y="412" width="2" height="12.6" rx="0" fill="#111" stroke="none" stroke-width="0" />
<line x1="289.6" y1="416.6" x2="289.6" y2="543.8" stroke="#333" stroke-width="1" />
<line x1="285.2" y1="416.6" x2="289.6" y2="416.6" stroke="#444" stroke-width="1" />
<text x="284.6" y="419.4" font-size="7.9" font-weight="bold" text-anchor="end" fill="#111" stroke="#111" stroke-width="0.2">2.0</text>
<line x1="285.2" y1="448.4" x2="289.6" y2="448.4" stroke="#444" stroke-width="1" />
<text x="284.6" y="451.2" font-size="7.9" font-weight="bold" text-anchor="end" fill="#111" stroke="#111" stroke-width="0.2">1.5</text>
<line x1="285.2" y1="480.2" x2="289.6" y2="480.2" stroke="#444" stroke-width="1" />
<text x="284.6" y="483" font-size="7.9" font-weight="bold" text-anchor="end" fill="#111" stroke="#111" stroke-width="0.2">1.0</text>
<line x1="285.2" y1="512" x2="289.6" y2="512" stroke="#444" stroke-width="1" />
<text x="284.6" y="514.8" font-size="7.9" font-weight="bold" text-anchor="end" fill="#111" stroke="#111" stroke-width="0.2">0.5</text>
<line x1="285.2" y1="543.8" x2="289.6" y2="543.8" stroke="#444" stroke-width="1" />
<text x="284.6" y="546.6" font-size="7.9" font-weight="bold" text-anchor="end" fill="#111" stroke="#111" stroke-width="0.2">0.0</text>
<line x1="285.1" y1="543.8" x2="444.9" y2="543.8" stroke="#333" stroke-width="1" />
<line x1="308.9" y1="543.8" x2="308.9" y2="548.2" stroke="#444" stroke-width="1" />
<text x="308.9" y="556" font-size="7.9" font-weight="bold" text-anchor="middle" fill="#111" stroke="#111" stroke-width="0.2">1</text>
<line x1="338.6" y1="543.8" x2="338.6" y2="548.2" stroke="#444" stroke-width="1" />
<text x="338.6" y="556" font-size="7.9" font-weight="bold" text-anchor="middle" fill="#111" stroke="#111" stroke-width="0.2">2</text>
<line x1="367.8" y1="543.8" x2="367.8" y2="548.2" stroke="#444" stroke-width="1" />
<text x="367.8" y="556" font-size="7.9" font-weight="bold" text-anchor="middle" fill="#111" stroke="#111" stroke-width="0.2">3</text>
<line x1="397" y1="543.8" x2="397" y2="548.2" stroke="#444" stroke-width="1" />
<text x="397" y="556" font-size="7.9" font-weight="bold" text-anchor="middle" fill="#111" stroke="#111" stroke-width="0.2">4</text>
<line x1="426.6" y1="543.8" x2="426.6" y2="548.2" stroke="#444" stroke-width="1" />
<text x="426.6" y="556" font-size="7.9" font-weight="bold" text-anchor="middle" fill="#111" stroke="#111" stroke-width="0.2">5</text>
<text x="369.4" y="567.84" font-size="7.9" font-weight="bold" text-anchor="middle" fill="#111" stroke="#111" stroke-width="0.12">Block of 4 Sessions</text>
<text x="271.5" y="478.1" font-size="8.6" font-weight="bold" text-anchor="middle" fill="#111" transform="rotate(-90 271.5 478.1)" stroke="#111" stroke-width="0.12" textLength="95.4" lengthAdjust="spacingAndGlyphs">Incorrect touch latency (s)</text>
<text transform="matrix(0.16743 0 0 0.15951 331.330 485.374)" font-size="100" font-weight="normal" fill="#111" stroke="#111" stroke-width="1.79">*</text>
<text transform="matrix(0.16743 0 0 0.15951 337.846 485.374)" font-size="100" font-weight="normal" fill="#111" stroke="#111" stroke-width="1.79">*</text>
<text transform="matrix(0.12069 0 0 0.12864 364.347 475.100)" font-size="100" font-weight="normal" fill="#111" stroke="#111" stroke-width="2.49">#</text>
<text transform="matrix(0.16877 0 0 0.14812 361.028 491.390)" font-size="100" font-weight="normal" fill="#111" stroke="#111" stroke-width="1.78">*</text>
<text transform="matrix(0.16877 0 0 0.14812 367.596 491.390)" font-size="100" font-weight="normal" fill="#111" stroke="#111" stroke-width="1.78">*</text>
<text transform="matrix(0.12069 0 0 0.12572 423.347 489.100)" font-size="100" font-weight="normal" fill="#111" stroke="#111" stroke-width="2.49">#</text>
<text transform="matrix(0.15948 0 0 0.15381 423.543 505.682)" font-size="100" font-weight="normal" fill="#111" stroke="#111" stroke-width="1.88">*</text>
<polyline points="434.3,506.3 439.7,506.3 439.7,518.4 434.3,518.4" fill="none" stroke="#111" stroke-width="1.1" />
<path d="M444.5 510.55V514.25M442.9 511.47L446.1 513.32M442.9 513.32L446.1 511.47" stroke="#111" stroke-width="1.3" stroke-linecap="round" fill="none"/>
<circle cx="444.5" cy="512.4" r="1.02" fill="#111"/>
<path d="M450.1 510.55V514.25M448.5 511.47L451.7 513.32M448.5 513.32L451.7 511.47" stroke="#111" stroke-width="1.3" stroke-linecap="round" fill="none"/>
<circle cx="450.1" cy="512.4" r="1.02" fill="#111"/>
<polyline points="308.9,495.5 338.6,507.4 367.8,516.1 397,520.7 426.6,518" fill="none" stroke="#6e6e6e" stroke-width="0.8" />
<polyline points="308.9,487.6 338.6,495.7 367.8,500.5 397,507.9 426.6,506.7" fill="none" stroke="#1a9996" stroke-width="0.9" />
<polyline points="308.9,490.4 338.6,489.9 367.8,501.2 397,509.5 426.6,508.6" fill="none" stroke="#2a62a3" stroke-width="0.9" />
<line x1="308.9" y1="492" x2="308.9" y2="499" stroke="#858585" stroke-width="1" />
<line x1="306.15" y1="492" x2="311.65" y2="492" stroke="#858585" stroke-width="1" />
<line x1="306.15" y1="499" x2="311.65" y2="499" stroke="#858585" stroke-width="1" />
<line x1="338.6" y1="503.5" x2="338.6" y2="511.3" stroke="#858585" stroke-width="1" />
<line x1="335.85" y1="503.5" x2="341.35" y2="503.5" stroke="#858585" stroke-width="1" />
<line x1="335.85" y1="511.3" x2="341.35" y2="511.3" stroke="#858585" stroke-width="1" />
<line x1="367.8" y1="512.6" x2="367.8" y2="519.6" stroke="#858585" stroke-width="1" />
<line x1="365.05" y1="512.6" x2="370.55" y2="512.6" stroke="#858585" stroke-width="1" />
<line x1="365.05" y1="519.6" x2="370.55" y2="519.6" stroke="#858585" stroke-width="1" />
<line x1="397" y1="517.2" x2="397" y2="524.2" stroke="#858585" stroke-width="1" />
<line x1="394.25" y1="517.2" x2="399.75" y2="517.2" stroke="#858585" stroke-width="1" />
<line x1="394.25" y1="524.2" x2="399.75" y2="524.2" stroke="#858585" stroke-width="1" />
<line x1="426.6" y1="515" x2="426.6" y2="521" stroke="#858585" stroke-width="1" />
<line x1="423.85" y1="515" x2="429.35" y2="515" stroke="#858585" stroke-width="1" />
<line x1="423.85" y1="521" x2="429.35" y2="521" stroke="#858585" stroke-width="1" />
<line x1="308.9" y1="484.1" x2="308.9" y2="491.1" stroke="#6cc0bd" stroke-width="1" />
<line x1="306.15" y1="484.1" x2="311.65" y2="484.1" stroke="#6cc0bd" stroke-width="1" />
<line x1="306.15" y1="491.1" x2="311.65" y2="491.1" stroke="#6cc0bd" stroke-width="1" />
<line x1="338.6" y1="492.2" x2="338.6" y2="499.2" stroke="#6cc0bd" stroke-width="1" />
<line x1="335.85" y1="492.2" x2="341.35" y2="492.2" stroke="#6cc0bd" stroke-width="1" />
<line x1="335.85" y1="499.2" x2="341.35" y2="499.2" stroke="#6cc0bd" stroke-width="1" />
<line x1="367.8" y1="496" x2="367.8" y2="505" stroke="#6cc0bd" stroke-width="1" />
<line x1="365.05" y1="496" x2="370.55" y2="496" stroke="#6cc0bd" stroke-width="1" />
<line x1="365.05" y1="505" x2="370.55" y2="505" stroke="#6cc0bd" stroke-width="1" />
<line x1="397" y1="502.9" x2="397" y2="512.9" stroke="#6cc0bd" stroke-width="1" />
<line x1="394.25" y1="502.9" x2="399.75" y2="502.9" stroke="#6cc0bd" stroke-width="1" />
<line x1="394.25" y1="512.9" x2="399.75" y2="512.9" stroke="#6cc0bd" stroke-width="1" />
<line x1="426.6" y1="503.2" x2="426.6" y2="510.2" stroke="#6cc0bd" stroke-width="1" />
<line x1="423.85" y1="503.2" x2="429.35" y2="503.2" stroke="#6cc0bd" stroke-width="1" />
<line x1="423.85" y1="510.2" x2="429.35" y2="510.2" stroke="#6cc0bd" stroke-width="1" />
<line x1="308.9" y1="486.4" x2="308.9" y2="494.4" stroke="#6892c3" stroke-width="1" />
<line x1="306.15" y1="486.4" x2="311.65" y2="486.4" stroke="#6892c3" stroke-width="1" />
<line x1="306.15" y1="494.4" x2="311.65" y2="494.4" stroke="#6892c3" stroke-width="1" />
<line x1="338.6" y1="486.1" x2="338.6" y2="493.7" stroke="#6892c3" stroke-width="1" />
<line x1="335.85" y1="486.1" x2="341.35" y2="486.1" stroke="#6892c3" stroke-width="1" />
<line x1="335.85" y1="493.7" x2="341.35" y2="493.7" stroke="#6892c3" stroke-width="1" />
<line x1="367.8" y1="495.7" x2="367.8" y2="506.7" stroke="#6892c3" stroke-width="1" />
<line x1="365.05" y1="495.7" x2="370.55" y2="495.7" stroke="#6892c3" stroke-width="1" />
<line x1="365.05" y1="506.7" x2="370.55" y2="506.7" stroke="#6892c3" stroke-width="1" />
<line x1="397" y1="505.5" x2="397" y2="513.5" stroke="#6892c3" stroke-width="1" />
<line x1="394.25" y1="505.5" x2="399.75" y2="505.5" stroke="#6892c3" stroke-width="1" />
<line x1="394.25" y1="513.5" x2="399.75" y2="513.5" stroke="#6892c3" stroke-width="1" />
<line x1="426.6" y1="505.1" x2="426.6" y2="512.1" stroke="#6892c3" stroke-width="1" />
<line x1="423.85" y1="505.1" x2="429.35" y2="505.1" stroke="#6892c3" stroke-width="1" />
<line x1="423.85" y1="512.1" x2="429.35" y2="512.1" stroke="#6892c3" stroke-width="1" />
<circle cx="308.9" cy="495.5" r="3.15" fill="#e6e6e6" stroke="#7a7a7a" stroke-width="0.8"/>
<circle cx="338.6" cy="507.4" r="3.15" fill="#e6e6e6" stroke="#7a7a7a" stroke-width="0.8"/>
<circle cx="367.8" cy="516.1" r="3.15" fill="#e6e6e6" stroke="#7a7a7a" stroke-width="0.8"/>
<circle cx="397" cy="520.7" r="3.15" fill="#e6e6e6" stroke="#7a7a7a" stroke-width="0.8"/>
<circle cx="426.6" cy="518" r="3.15" fill="#e6e6e6" stroke="#7a7a7a" stroke-width="0.8"/>
<circle cx="308.9" cy="487.6" r="3.25" fill="#0e928f" stroke="none" stroke-width="0"/>
<circle cx="338.6" cy="495.7" r="3.25" fill="#0e928f" stroke="none" stroke-width="0"/>
<circle cx="367.8" cy="500.5" r="3.25" fill="#0e928f" stroke="none" stroke-width="0"/>
<circle cx="397" cy="507.9" r="3.25" fill="#0e928f" stroke="none" stroke-width="0"/>
<circle cx="426.6" cy="506.7" r="3.25" fill="#0e928f" stroke="none" stroke-width="0"/>
<circle cx="308.9" cy="490.4" r="3.25" fill="#0b4b8d" stroke="none" stroke-width="0"/>
<circle cx="338.6" cy="489.9" r="3.25" fill="#0b4b8d" stroke="none" stroke-width="0"/>
<circle cx="367.8" cy="501.2" r="3.25" fill="#0b4b8d" stroke="none" stroke-width="0"/>
<circle cx="397" cy="509.5" r="3.25" fill="#0b4b8d" stroke="none" stroke-width="0"/>
<circle cx="426.6" cy="508.6" r="3.25" fill="#0b4b8d" stroke="none" stroke-width="0"/>
<path d="M491.25 411.9 V420.4 C491.25 423.3 489.7 424.05 487.7 424.05 C487.2 424.05 486.8 424 486.3 423.85" fill="none" stroke="#111" stroke-width="1.55"/>
<line x1="527.4" y1="416.9" x2="527.4" y2="544.1" stroke="#333" stroke-width="1" />
<line x1="523" y1="416.9" x2="527.4" y2="416.9" stroke="#444" stroke-width="1" />
<text x="522.4" y="419.7" font-size="7.9" font-weight="bold" text-anchor="end" fill="#111" stroke="#111" stroke-width="0.2">2.0</text>
<line x1="523" y1="448.7" x2="527.4" y2="448.7" stroke="#444" stroke-width="1" />
<text x="522.4" y="451.5" font-size="7.9" font-weight="bold" text-anchor="end" fill="#111" stroke="#111" stroke-width="0.2">1.5</text>
<line x1="523" y1="480.5" x2="527.4" y2="480.5" stroke="#444" stroke-width="1" />
<text x="522.4" y="483.3" font-size="7.9" font-weight="bold" text-anchor="end" fill="#111" stroke="#111" stroke-width="0.2">1.0</text>
<line x1="523" y1="512.3" x2="527.4" y2="512.3" stroke="#444" stroke-width="1" />
<text x="522.4" y="515.1" font-size="7.9" font-weight="bold" text-anchor="end" fill="#111" stroke="#111" stroke-width="0.2">0.5</text>
<line x1="523" y1="544.1" x2="527.4" y2="544.1" stroke="#444" stroke-width="1" />
<text x="522.4" y="546.9" font-size="7.9" font-weight="bold" text-anchor="end" fill="#111" stroke="#111" stroke-width="0.2">0.0</text>
<line x1="522.9" y1="544.1" x2="685" y2="544.1" stroke="#333" stroke-width="1" />
<line x1="547.3" y1="544.1" x2="547.3" y2="548.5" stroke="#444" stroke-width="1" />
<text x="547.3" y="556.3" font-size="7.9" font-weight="bold" text-anchor="middle" fill="#111" stroke="#111" stroke-width="0.2">1</text>
<line x1="576.7" y1="544.1" x2="576.7" y2="548.5" stroke="#444" stroke-width="1" />
<text x="576.7" y="556.3" font-size="7.9" font-weight="bold" text-anchor="middle" fill="#111" stroke="#111" stroke-width="0.2">2</text>
<line x1="606" y1="544.1" x2="606" y2="548.5" stroke="#444" stroke-width="1" />
<text x="606" y="556.3" font-size="7.9" font-weight="bold" text-anchor="middle" fill="#111" stroke="#111" stroke-width="0.2">3</text>
<line x1="635.6" y1="544.1" x2="635.6" y2="548.5" stroke="#444" stroke-width="1" />
<text x="635.6" y="556.3" font-size="7.9" font-weight="bold" text-anchor="middle" fill="#111" stroke="#111" stroke-width="0.2">4</text>
<line x1="664.9" y1="544.1" x2="664.9" y2="548.5" stroke="#444" stroke-width="1" />
<text x="664.9" y="556.3" font-size="7.9" font-weight="bold" text-anchor="middle" fill="#111" stroke="#111" stroke-width="0.2">5</text>
<text x="608.1" y="567.84" font-size="7.9" font-weight="bold" text-anchor="middle" fill="#111" stroke="#111" stroke-width="0.12">Block of 4 Sessions</text>
<text x="508.9" y="478.9" font-size="8.6" font-weight="bold" text-anchor="middle" fill="#111" transform="rotate(-90 508.9 478.9)" stroke="#111" stroke-width="0.12" textLength="107.9" lengthAdjust="spacingAndGlyphs">Reward Collection Latency (s)</text>
<polyline points="547.3,485.7 576.7,472.4 606,466.5 635.6,463.5 664.9,469.8" fill="none" stroke="#6e6e6e" stroke-width="0.8" />
<polyline points="547.3,494.6 576.7,483.6 606,479.2 635.6,475.1 664.9,477" fill="none" stroke="#1a9996" stroke-width="0.9" />
<polyline points="547.3,480.4 576.7,479.2 606,465.6 635.6,453.7 664.9,465.6" fill="none" stroke="#2a62a3" stroke-width="0.9" />
<line x1="547.3" y1="482.4" x2="547.3" y2="489" stroke="#858585" stroke-width="1" />
<line x1="544.55" y1="482.4" x2="550.05" y2="482.4" stroke="#858585" stroke-width="1" />
<line x1="544.55" y1="489" x2="550.05" y2="489" stroke="#858585" stroke-width="1" />
<line x1="576.7" y1="467.8" x2="576.7" y2="477" stroke="#858585" stroke-width="1" />
<line x1="573.95" y1="467.8" x2="579.45" y2="467.8" stroke="#858585" stroke-width="1" />
<line x1="573.95" y1="477" x2="579.45" y2="477" stroke="#858585" stroke-width="1" />
<line x1="606" y1="462" x2="606" y2="471" stroke="#858585" stroke-width="1" />
<line x1="603.25" y1="462" x2="608.75" y2="462" stroke="#858585" stroke-width="1" />
<line x1="603.25" y1="471" x2="608.75" y2="471" stroke="#858585" stroke-width="1" />
<line x1="635.6" y1="459.5" x2="635.6" y2="467.5" stroke="#858585" stroke-width="1" />
<line x1="632.85" y1="459.5" x2="638.35" y2="459.5" stroke="#858585" stroke-width="1" />
<line x1="632.85" y1="467.5" x2="638.35" y2="467.5" stroke="#858585" stroke-width="1" />
<line x1="664.9" y1="467" x2="664.9" y2="472.6" stroke="#858585" stroke-width="1" />
<line x1="662.15" y1="467" x2="667.65" y2="467" stroke="#858585" stroke-width="1" />
<line x1="662.15" y1="472.6" x2="667.65" y2="472.6" stroke="#858585" stroke-width="1" />
<line x1="547.3" y1="490.9" x2="547.3" y2="498.3" stroke="#6cc0bd" stroke-width="1" />
<line x1="544.55" y1="490.9" x2="550.05" y2="490.9" stroke="#6cc0bd" stroke-width="1" />
<line x1="544.55" y1="498.3" x2="550.05" y2="498.3" stroke="#6cc0bd" stroke-width="1" />
<line x1="576.7" y1="479.6" x2="576.7" y2="487.6" stroke="#6cc0bd" stroke-width="1" />
<line x1="573.95" y1="479.6" x2="579.45" y2="479.6" stroke="#6cc0bd" stroke-width="1" />
<line x1="573.95" y1="487.6" x2="579.45" y2="487.6" stroke="#6cc0bd" stroke-width="1" />
<line x1="606" y1="474.5" x2="606" y2="483.9" stroke="#6cc0bd" stroke-width="1" />
<line x1="603.25" y1="474.5" x2="608.75" y2="474.5" stroke="#6cc0bd" stroke-width="1" />
<line x1="603.25" y1="483.9" x2="608.75" y2="483.9" stroke="#6cc0bd" stroke-width="1" />
<line x1="635.6" y1="470.4" x2="635.6" y2="479.8" stroke="#6cc0bd" stroke-width="1" />
<line x1="632.85" y1="470.4" x2="638.35" y2="470.4" stroke="#6cc0bd" stroke-width="1" />
<line x1="632.85" y1="479.8" x2="638.35" y2="479.8" stroke="#6cc0bd" stroke-width="1" />
<line x1="664.9" y1="472.7" x2="664.9" y2="481.3" stroke="#6cc0bd" stroke-width="1" />
<line x1="662.15" y1="472.7" x2="667.65" y2="472.7" stroke="#6cc0bd" stroke-width="1" />
<line x1="662.15" y1="481.3" x2="667.65" y2="481.3" stroke="#6cc0bd" stroke-width="1" />
<line x1="547.3" y1="473.4" x2="547.3" y2="487.4" stroke="#6892c3" stroke-width="1" />
<line x1="544.55" y1="473.4" x2="550.05" y2="473.4" stroke="#6892c3" stroke-width="1" />
<line x1="544.55" y1="487.4" x2="550.05" y2="487.4" stroke="#6892c3" stroke-width="1" />
<line x1="576.7" y1="476" x2="576.7" y2="482.4" stroke="#6892c3" stroke-width="1" />
<line x1="573.95" y1="476" x2="579.45" y2="476" stroke="#6892c3" stroke-width="1" />
<line x1="573.95" y1="482.4" x2="579.45" y2="482.4" stroke="#6892c3" stroke-width="1" />
<line x1="606" y1="461.2" x2="606" y2="470" stroke="#6892c3" stroke-width="1" />
<line x1="603.25" y1="461.2" x2="608.75" y2="461.2" stroke="#6892c3" stroke-width="1" />
<line x1="603.25" y1="470" x2="608.75" y2="470" stroke="#6892c3" stroke-width="1" />
<line x1="635.6" y1="439.5" x2="635.6" y2="468" stroke="#6892c3" stroke-width="1" />
<line x1="632.85" y1="439.5" x2="638.35" y2="439.5" stroke="#6892c3" stroke-width="1" />
<line x1="632.85" y1="468" x2="638.35" y2="468" stroke="#6892c3" stroke-width="1" />
<line x1="664.9" y1="458.6" x2="664.9" y2="472.6" stroke="#6892c3" stroke-width="1" />
<line x1="662.15" y1="458.6" x2="667.65" y2="458.6" stroke="#6892c3" stroke-width="1" />
<line x1="662.15" y1="472.6" x2="667.65" y2="472.6" stroke="#6892c3" stroke-width="1" />
<circle cx="547.3" cy="485.7" r="3.15" fill="#e6e6e6" stroke="#7a7a7a" stroke-width="0.8"/>
<circle cx="576.7" cy="472.4" r="3.15" fill="#e6e6e6" stroke="#7a7a7a" stroke-width="0.8"/>
<circle cx="606" cy="466.5" r="3.15" fill="#e6e6e6" stroke="#7a7a7a" stroke-width="0.8"/>
<circle cx="635.6" cy="463.5" r="3.15" fill="#e6e6e6" stroke="#7a7a7a" stroke-width="0.8"/>
<circle cx="664.9" cy="469.8" r="3.15" fill="#e6e6e6" stroke="#7a7a7a" stroke-width="0.8"/>
<circle cx="547.3" cy="494.6" r="3.25" fill="#0e928f" stroke="none" stroke-width="0"/>
<circle cx="576.7" cy="483.6" r="3.25" fill="#0e928f" stroke="none" stroke-width="0"/>
<circle cx="606" cy="479.2" r="3.25" fill="#0e928f" stroke="none" stroke-width="0"/>
<circle cx="635.6" cy="475.1" r="3.25" fill="#0e928f" stroke="none" stroke-width="0"/>
<circle cx="664.9" cy="477" r="3.25" fill="#0e928f" stroke="none" stroke-width="0"/>
<circle cx="547.3" cy="480.4" r="3.25" fill="#0b4b8d" stroke="none" stroke-width="0"/>
<circle cx="576.7" cy="479.2" r="3.25" fill="#0b4b8d" stroke="none" stroke-width="0"/>
<circle cx="606" cy="465.6" r="3.25" fill="#0b4b8d" stroke="none" stroke-width="0"/>
<circle cx="635.6" cy="453.7" r="3.25" fill="#0b4b8d" stroke="none" stroke-width="0"/>
<circle cx="664.9" cy="465.6" r="3.25" fill="#0b4b8d" stroke="none" stroke-width="0"/>
</svg>
</body></html>
